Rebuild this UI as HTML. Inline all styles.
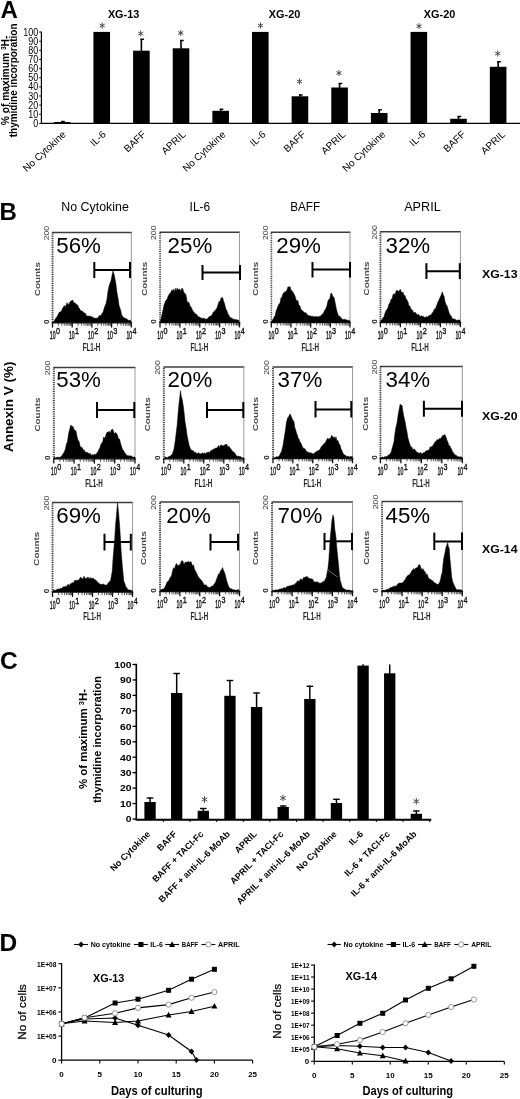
<!DOCTYPE html>
<html lang="en">
<head>
<meta charset="utf-8">
<title>Figure</title>
<style>
html,body{margin:0;padding:0;background:#fff;}
body{width:520px;height:1099px;overflow:hidden;font-family:"Liberation Sans", sans-serif;}
svg{display:block;}
svg text{font-family:"Liberation Sans", sans-serif;}
</style>
</head>
<body>
<svg width="520" height="1099" viewBox="0 0 520 1099">
<defs>
<filter id="g" x="0" y="0" width="100%" height="100%" filterUnits="userSpaceOnUse"><feGaussianBlur stdDeviation="0.3"/></filter>
<filter id="soft" x="-2%" y="-2%" width="104%" height="104%"><feGaussianBlur stdDeviation="0.35"/></filter>
</defs>
<rect x="0" y="0" width="520" height="1099" fill="#fff"/>
<g filter="url(#g)">
<g id="panelA">
<text x="0.40" y="17.50" font-size="24" font-weight="bold">A</text>
<line x1="41.40" y1="31.60" x2="41.40" y2="123.90" stroke="#000" stroke-width="1.2" />
<line x1="40.90" y1="123.40" x2="520.00" y2="123.40" stroke="#000" stroke-width="1.3" />
<line x1="39.20" y1="123.40" x2="41.40" y2="123.40" stroke="#000" stroke-width="1" />
<text x="38.30" y="126.90" font-size="10.2" text-anchor="end" textLength="5.00" lengthAdjust="spacingAndGlyphs">0</text>
<line x1="39.20" y1="114.27" x2="41.40" y2="114.27" stroke="#000" stroke-width="1" />
<text x="38.30" y="117.77" font-size="10.2" text-anchor="end" textLength="10.00" lengthAdjust="spacingAndGlyphs">10</text>
<line x1="39.20" y1="105.14" x2="41.40" y2="105.14" stroke="#000" stroke-width="1" />
<text x="38.30" y="108.64" font-size="10.2" text-anchor="end" textLength="10.00" lengthAdjust="spacingAndGlyphs">20</text>
<line x1="39.20" y1="96.01" x2="41.40" y2="96.01" stroke="#000" stroke-width="1" />
<text x="38.30" y="99.51" font-size="10.2" text-anchor="end" textLength="10.00" lengthAdjust="spacingAndGlyphs">30</text>
<line x1="39.20" y1="86.88" x2="41.40" y2="86.88" stroke="#000" stroke-width="1" />
<text x="38.30" y="90.38" font-size="10.2" text-anchor="end" textLength="10.00" lengthAdjust="spacingAndGlyphs">40</text>
<line x1="39.20" y1="77.75" x2="41.40" y2="77.75" stroke="#000" stroke-width="1" />
<text x="38.30" y="81.25" font-size="10.2" text-anchor="end" textLength="10.00" lengthAdjust="spacingAndGlyphs">50</text>
<line x1="39.20" y1="68.62" x2="41.40" y2="68.62" stroke="#000" stroke-width="1" />
<text x="38.30" y="72.12" font-size="10.2" text-anchor="end" textLength="10.00" lengthAdjust="spacingAndGlyphs">60</text>
<line x1="39.20" y1="59.49" x2="41.40" y2="59.49" stroke="#000" stroke-width="1" />
<text x="38.30" y="62.99" font-size="10.2" text-anchor="end" textLength="10.00" lengthAdjust="spacingAndGlyphs">70</text>
<line x1="39.20" y1="50.36" x2="41.40" y2="50.36" stroke="#000" stroke-width="1" />
<text x="38.30" y="53.86" font-size="10.2" text-anchor="end" textLength="10.00" lengthAdjust="spacingAndGlyphs">80</text>
<line x1="39.20" y1="41.23" x2="41.40" y2="41.23" stroke="#000" stroke-width="1" />
<text x="38.30" y="44.73" font-size="10.2" text-anchor="end" textLength="10.00" lengthAdjust="spacingAndGlyphs">90</text>
<line x1="39.20" y1="32.10" x2="41.40" y2="32.10" stroke="#000" stroke-width="1" />
<text x="38.30" y="35.60" font-size="10.2" text-anchor="end" textLength="15.00" lengthAdjust="spacingAndGlyphs">100</text>
<text x="8.60" y="80.40" font-size="10" font-weight="bold" text-anchor="middle" transform="rotate(-90 8.60 80.40)" textLength="89.70" lengthAdjust="spacingAndGlyphs">% of maximum  <tspan font-size="6.5" dy="-3">3</tspan><tspan dy="3">H-</tspan></text>
<text x="17.30" y="80.40" font-size="10" font-weight="bold" text-anchor="middle" transform="rotate(-90 17.30 80.40)" textLength="113.70" lengthAdjust="spacingAndGlyphs">thymidine incorporation</text>
<text x="107.90" y="18.30" font-size="11" font-weight="bold" textLength="31.30" lengthAdjust="spacingAndGlyphs">XG-13</text>
<text x="268.80" y="18.30" font-size="11" font-weight="bold" textLength="31.50" lengthAdjust="spacingAndGlyphs">XG-20</text>
<text x="423.80" y="18.30" font-size="11" font-weight="bold" textLength="31.50" lengthAdjust="spacingAndGlyphs">XG-20</text>
<rect x="53.80" y="122.00" width="16.60" height="1.40" fill="#000" />
<line x1="62.10" y1="121.00" x2="62.10" y2="122.50" stroke="#000" stroke-width="1.6" />
<line x1="61.10" y1="121.50" x2="64.80" y2="121.50" stroke="#000" stroke-width="1.5" />
<text x="66.60" y="135.20" font-size="10.0" text-anchor="end" transform="rotate(-43 66.60 135.20)">No Cytokine</text>
<rect x="93.44" y="31.90" width="16.60" height="91.50" fill="#000" />
<path d="M102.20 22.50L102.20 28.50M99.60 24.00L104.80 27.00M104.80 24.00L99.60 27.00" stroke="#4a4a4a" stroke-width="1.0" fill="none"/>
<text x="106.53" y="135.20" font-size="10.0" text-anchor="end" transform="rotate(-43 106.53 135.20)">IL-6</text>
<rect x="133.08" y="50.70" width="16.60" height="72.70" fill="#000" />
<line x1="141.38" y1="38.80" x2="141.38" y2="51.20" stroke="#000" stroke-width="1.6" />
<line x1="140.38" y1="39.30" x2="144.08" y2="39.30" stroke="#000" stroke-width="1.5" />
<path d="M140.70 30.50L140.70 36.50M138.10 32.00L143.30 35.00M143.30 32.00L138.10 35.00" stroke="#4a4a4a" stroke-width="1.0" fill="none"/>
<text x="146.46" y="135.20" font-size="10.0" text-anchor="end" transform="rotate(-43 146.46 135.20)">BAFF</text>
<rect x="172.72" y="48.30" width="16.60" height="75.10" fill="#000" />
<line x1="181.02" y1="40.00" x2="181.02" y2="48.80" stroke="#000" stroke-width="1.6" />
<line x1="180.02" y1="40.50" x2="183.72" y2="40.50" stroke="#000" stroke-width="1.5" />
<path d="M180.70 30.00L180.70 36.00M178.10 31.50L183.30 34.50M183.30 31.50L178.10 34.50" stroke="#4a4a4a" stroke-width="1.0" fill="none"/>
<text x="186.39" y="135.20" font-size="10.0" text-anchor="end" transform="rotate(-43 186.39 135.20)">APRIL</text>
<rect x="212.36" y="110.80" width="16.60" height="12.60" fill="#000" />
<line x1="220.66" y1="108.80" x2="220.66" y2="111.30" stroke="#000" stroke-width="1.6" />
<line x1="219.66" y1="109.30" x2="223.36" y2="109.30" stroke="#000" stroke-width="1.5" />
<text x="226.32" y="135.20" font-size="10.0" text-anchor="end" transform="rotate(-43 226.32 135.20)">No Cytokine</text>
<rect x="252.00" y="31.90" width="16.60" height="91.50" fill="#000" />
<path d="M260.50 22.50L260.50 28.50M257.90 24.00L263.10 27.00M263.10 24.00L257.90 27.00" stroke="#4a4a4a" stroke-width="1.0" fill="none"/>
<text x="266.25" y="135.20" font-size="10.0" text-anchor="end" transform="rotate(-43 266.25 135.20)">IL-6</text>
<rect x="291.64" y="96.30" width="16.60" height="27.10" fill="#000" />
<line x1="299.94" y1="94.50" x2="299.94" y2="96.80" stroke="#000" stroke-width="1.6" />
<line x1="298.94" y1="95.00" x2="302.64" y2="95.00" stroke="#000" stroke-width="1.5" />
<path d="M299.50 78.50L299.50 84.50M296.90 80.00L302.10 83.00M302.10 80.00L296.90 83.00" stroke="#4a4a4a" stroke-width="1.0" fill="none"/>
<text x="306.18" y="135.20" font-size="10.0" text-anchor="end" transform="rotate(-43 306.18 135.20)">BAFF</text>
<rect x="331.28" y="87.50" width="16.60" height="35.90" fill="#000" />
<line x1="339.58" y1="83.00" x2="339.58" y2="88.00" stroke="#000" stroke-width="1.6" />
<line x1="338.58" y1="83.50" x2="342.28" y2="83.50" stroke="#000" stroke-width="1.5" />
<path d="M339.00 70.00L339.00 76.00M336.40 71.50L341.60 74.50M341.60 71.50L336.40 74.50" stroke="#4a4a4a" stroke-width="1.0" fill="none"/>
<text x="346.11" y="135.20" font-size="10.0" text-anchor="end" transform="rotate(-43 346.11 135.20)">APRIL</text>
<rect x="370.92" y="113.00" width="16.60" height="10.40" fill="#000" />
<line x1="379.22" y1="109.30" x2="379.22" y2="113.50" stroke="#000" stroke-width="1.6" />
<line x1="378.22" y1="109.80" x2="381.92" y2="109.80" stroke="#000" stroke-width="1.5" />
<text x="386.04" y="135.20" font-size="10.0" text-anchor="end" transform="rotate(-43 386.04 135.20)">No Cytokine</text>
<rect x="410.56" y="31.90" width="16.60" height="91.50" fill="#000" />
<path d="M419.00 23.20L419.00 29.20M416.40 24.70L421.60 27.70M421.60 24.70L416.40 27.70" stroke="#4a4a4a" stroke-width="1.0" fill="none"/>
<text x="425.97" y="135.20" font-size="10.0" text-anchor="end" transform="rotate(-43 425.97 135.20)">IL-6</text>
<rect x="450.20" y="118.80" width="16.60" height="4.60" fill="#000" />
<line x1="458.50" y1="116.00" x2="458.50" y2="119.30" stroke="#000" stroke-width="1.6" />
<line x1="457.50" y1="116.50" x2="461.20" y2="116.50" stroke="#000" stroke-width="1.5" />
<text x="465.90" y="135.20" font-size="10.0" text-anchor="end" transform="rotate(-43 465.90 135.20)">BAFF</text>
<rect x="489.84" y="66.80" width="16.60" height="56.60" fill="#000" />
<line x1="498.14" y1="61.30" x2="498.14" y2="67.30" stroke="#000" stroke-width="1.6" />
<line x1="497.14" y1="61.80" x2="500.84" y2="61.80" stroke="#000" stroke-width="1.5" />
<path d="M497.70 50.50L497.70 56.50M495.10 52.00L500.30 55.00M500.30 52.00L495.10 55.00" stroke="#4a4a4a" stroke-width="1.0" fill="none"/>
<text x="505.83" y="135.20" font-size="10.0" text-anchor="end" transform="rotate(-43 505.83 135.20)">APRIL</text>
</g>
<g id="panelB">
<text x="-0.50" y="219.80" font-size="24" font-weight="bold">B</text>
<text x="13.20" y="406.80" font-size="12.8" font-weight="bold" text-anchor="middle" transform="rotate(-90 13.20 406.80)" textLength="90.50" lengthAdjust="spacingAndGlyphs">Annexin V (%)</text>
<text x="61.30" y="210.60" font-size="12.2" textLength="67.50" lengthAdjust="spacingAndGlyphs">No Cytokine</text>
<text x="189.60" y="210.60" font-size="12.2" textLength="20.60" lengthAdjust="spacingAndGlyphs">IL-6</text>
<text x="290.20" y="210.60" font-size="12.2" textLength="30.00" lengthAdjust="spacingAndGlyphs">BAFF</text>
<text x="404.20" y="210.60" font-size="12.2" textLength="36.50" lengthAdjust="spacingAndGlyphs">APRIL</text>
<text x="482.00" y="277.50" font-size="11.2" font-weight="bold" textLength="35.50" lengthAdjust="spacingAndGlyphs">XG-13</text>
<text x="482.00" y="420.00" font-size="11.2" font-weight="bold" textLength="35.50" lengthAdjust="spacingAndGlyphs">XG-20</text>
<text x="482.00" y="553.20" font-size="11.2" font-weight="bold" textLength="35.50" lengthAdjust="spacingAndGlyphs">XG-14</text>
<g filter="url(#soft)">
<line x1="52.00" y1="232.60" x2="131.80" y2="232.60" stroke="#3c3c3c" stroke-width="1.5" />
<line x1="131.30" y1="232.60" x2="131.30" y2="322.60" stroke="#9a9a9a" stroke-width="1.0" />
<line x1="52.70" y1="233.60" x2="52.70" y2="322.60" stroke="#888" stroke-width="0.5" />
<line x1="52.50" y1="233.60" x2="52.50" y2="322.60" stroke="#3a3a3a" stroke-width="2.0" stroke-dasharray="0.9 1.35"/>
<line x1="51.70" y1="322.90" x2="132.10" y2="322.90" stroke="#111" stroke-width="1.3" />
<line x1="52.50" y1="322.60" x2="52.50" y2="327.60" stroke="#111" stroke-width="1.3" />
<line x1="58.43" y1="322.60" x2="58.43" y2="325.80" stroke="#333" stroke-width="0.8" />
<line x1="61.90" y1="322.60" x2="61.90" y2="325.80" stroke="#333" stroke-width="0.8" />
<line x1="64.36" y1="322.60" x2="64.36" y2="325.80" stroke="#333" stroke-width="0.8" />
<line x1="66.27" y1="322.60" x2="66.27" y2="325.80" stroke="#333" stroke-width="0.8" />
<line x1="67.83" y1="322.60" x2="67.83" y2="325.80" stroke="#333" stroke-width="0.8" />
<line x1="69.15" y1="322.60" x2="69.15" y2="325.80" stroke="#333" stroke-width="0.8" />
<line x1="70.29" y1="322.60" x2="70.29" y2="325.80" stroke="#333" stroke-width="0.8" />
<line x1="71.30" y1="322.60" x2="71.30" y2="325.80" stroke="#333" stroke-width="0.8" />
<line x1="72.20" y1="322.60" x2="72.20" y2="327.60" stroke="#111" stroke-width="1.3" />
<line x1="78.13" y1="322.60" x2="78.13" y2="325.80" stroke="#333" stroke-width="0.8" />
<line x1="81.60" y1="322.60" x2="81.60" y2="325.80" stroke="#333" stroke-width="0.8" />
<line x1="84.06" y1="322.60" x2="84.06" y2="325.80" stroke="#333" stroke-width="0.8" />
<line x1="85.97" y1="322.60" x2="85.97" y2="325.80" stroke="#333" stroke-width="0.8" />
<line x1="87.53" y1="322.60" x2="87.53" y2="325.80" stroke="#333" stroke-width="0.8" />
<line x1="88.85" y1="322.60" x2="88.85" y2="325.80" stroke="#333" stroke-width="0.8" />
<line x1="89.99" y1="322.60" x2="89.99" y2="325.80" stroke="#333" stroke-width="0.8" />
<line x1="91.00" y1="322.60" x2="91.00" y2="325.80" stroke="#333" stroke-width="0.8" />
<line x1="91.90" y1="322.60" x2="91.90" y2="327.60" stroke="#111" stroke-width="1.3" />
<line x1="97.83" y1="322.60" x2="97.83" y2="325.80" stroke="#333" stroke-width="0.8" />
<line x1="101.30" y1="322.60" x2="101.30" y2="325.80" stroke="#333" stroke-width="0.8" />
<line x1="103.76" y1="322.60" x2="103.76" y2="325.80" stroke="#333" stroke-width="0.8" />
<line x1="105.67" y1="322.60" x2="105.67" y2="325.80" stroke="#333" stroke-width="0.8" />
<line x1="107.23" y1="322.60" x2="107.23" y2="325.80" stroke="#333" stroke-width="0.8" />
<line x1="108.55" y1="322.60" x2="108.55" y2="325.80" stroke="#333" stroke-width="0.8" />
<line x1="109.69" y1="322.60" x2="109.69" y2="325.80" stroke="#333" stroke-width="0.8" />
<line x1="110.70" y1="322.60" x2="110.70" y2="325.80" stroke="#333" stroke-width="0.8" />
<line x1="111.60" y1="322.60" x2="111.60" y2="327.60" stroke="#111" stroke-width="1.3" />
<line x1="117.53" y1="322.60" x2="117.53" y2="325.80" stroke="#333" stroke-width="0.8" />
<line x1="121.00" y1="322.60" x2="121.00" y2="325.80" stroke="#333" stroke-width="0.8" />
<line x1="123.46" y1="322.60" x2="123.46" y2="325.80" stroke="#333" stroke-width="0.8" />
<line x1="125.37" y1="322.60" x2="125.37" y2="325.80" stroke="#333" stroke-width="0.8" />
<line x1="126.93" y1="322.60" x2="126.93" y2="325.80" stroke="#333" stroke-width="0.8" />
<line x1="128.25" y1="322.60" x2="128.25" y2="325.80" stroke="#333" stroke-width="0.8" />
<line x1="129.39" y1="322.60" x2="129.39" y2="325.80" stroke="#333" stroke-width="0.8" />
<line x1="130.40" y1="322.60" x2="130.40" y2="325.80" stroke="#333" stroke-width="0.8" />
<line x1="131.30" y1="322.60" x2="131.30" y2="327.60" stroke="#111" stroke-width="1.3" />
<path d="M53.0 322.6L53.0 321.9L54.0 320.9L55.0 319.6L56.0 317.9L57.0 316.5L58.0 315.0L59.0 312.6L60.0 312.0L60.9 311.5L61.7 310.9L62.6 307.9L63.4 307.2L64.3 305.5L65.1 306.7L66.0 305.6L67.0 302.6L68.0 304.7L69.0 303.7L70.0 301.8L71.0 301.4L72.0 300.1L73.0 300.4L74.0 303.2L75.0 302.7L76.0 304.0L76.9 304.8L77.7 305.1L78.6 307.4L79.4 308.3L80.3 310.4L81.1 310.4L82.0 311.3L82.9 311.6L83.7 312.7L84.6 312.9L85.4 313.3L86.3 315.5L87.1 316.0L88.0 316.1L88.9 316.2L89.8 315.9L90.6 316.2L91.5 316.7L92.4 316.7L93.2 318.1L94.1 317.7L95.0 318.6L96.0 317.8L97.0 318.4L98.0 317.9L99.0 315.8L100.0 315.5L101.0 315.7L102.0 313.2L103.0 312.4L104.0 308.8L105.0 305.8L106.0 303.7L107.0 298.9L108.0 291.3L109.0 286.3L110.0 283.2L111.0 280.7L112.0 275.5L113.0 271.0L114.0 274.0L115.0 279.1L116.0 284.2L117.0 293.0L118.0 298.1L119.0 305.2L119.9 307.9L120.8 310.7L121.6 315.0L122.5 315.8L123.4 317.8L124.2 317.6L125.1 318.5L126.0 318.6L127.0 319.0L128.0 320.3L129.0 320.4L130.0 320.1L131.0 321.0L131.0 322.6Z" fill="#050505" stroke="#050505" stroke-width="0.5" stroke-linejoin="round"/>
<text x="56.30" y="252.70" font-size="22.3">56%</text>
<line x1="94.30" y1="270.00" x2="130.00" y2="270.00" stroke="#000" stroke-width="2.0" />
<line x1="94.30" y1="262.00" x2="94.30" y2="278.00" stroke="#000" stroke-width="2.0" />
<line x1="130.00" y1="262.00" x2="130.00" y2="278.00" stroke="#000" stroke-width="2.0" />
<text x="40.30" y="279.10" font-size="7.6" font-weight="bold" text-anchor="middle" transform="rotate(-90 40.30 279.10)" textLength="34.00" lengthAdjust="spacingAndGlyphs" fill="#4a4a4a">Counts</text>
<text x="48.90" y="233.10" font-size="7.4" text-anchor="middle" transform="rotate(-90 48.90 233.10)" textLength="14.50" lengthAdjust="spacingAndGlyphs" fill="#3a3a3a">200</text>
<text x="48.90" y="321.80" font-size="8" font-weight="bold" text-anchor="middle" transform="rotate(-90 48.90 321.80)" fill="#222">0</text>
<text x="49.80" y="339.40" font-size="11.2" textLength="5.70" lengthAdjust="spacingAndGlyphs" fill="#111" stroke="#111" stroke-width="0.45">10</text>
<text x="55.90" y="334.40" font-size="9.8" textLength="4.00" lengthAdjust="spacingAndGlyphs" fill="#111" stroke="#111" stroke-width="0.4">0</text>
<text x="68.95" y="339.40" font-size="11.2" textLength="5.70" lengthAdjust="spacingAndGlyphs" fill="#111" stroke="#111" stroke-width="0.45">10</text>
<text x="75.05" y="334.40" font-size="9.8" textLength="4.00" lengthAdjust="spacingAndGlyphs" fill="#111" stroke="#111" stroke-width="0.4">1</text>
<text x="88.10" y="339.40" font-size="11.2" textLength="5.70" lengthAdjust="spacingAndGlyphs" fill="#111" stroke="#111" stroke-width="0.45">10</text>
<text x="94.20" y="334.40" font-size="9.8" textLength="4.00" lengthAdjust="spacingAndGlyphs" fill="#111" stroke="#111" stroke-width="0.4">2</text>
<text x="107.25" y="339.40" font-size="11.2" textLength="5.70" lengthAdjust="spacingAndGlyphs" fill="#111" stroke="#111" stroke-width="0.45">10</text>
<text x="113.35" y="334.40" font-size="9.8" textLength="4.00" lengthAdjust="spacingAndGlyphs" fill="#111" stroke="#111" stroke-width="0.4">3</text>
<text x="126.40" y="339.40" font-size="11.2" textLength="5.70" lengthAdjust="spacingAndGlyphs" fill="#111" stroke="#111" stroke-width="0.45">10</text>
<text x="132.50" y="334.40" font-size="9.8" textLength="4.00" lengthAdjust="spacingAndGlyphs" fill="#111" stroke="#111" stroke-width="0.4">4</text>
<text x="91.50" y="350.90" font-size="10" font-weight="bold" text-anchor="middle" textLength="17.60" lengthAdjust="spacingAndGlyphs" fill="#222">FL1-H</text>
<line x1="159.50" y1="232.20" x2="240.00" y2="232.20" stroke="#3c3c3c" stroke-width="1.5" />
<line x1="239.50" y1="232.20" x2="239.50" y2="322.40" stroke="#9a9a9a" stroke-width="1.0" />
<line x1="160.20" y1="233.20" x2="160.20" y2="322.40" stroke="#888" stroke-width="0.5" />
<line x1="160.00" y1="233.20" x2="160.00" y2="322.40" stroke="#3a3a3a" stroke-width="2.0" stroke-dasharray="0.9 1.35"/>
<line x1="159.20" y1="322.70" x2="240.30" y2="322.70" stroke="#111" stroke-width="1.3" />
<line x1="160.00" y1="322.40" x2="160.00" y2="327.40" stroke="#111" stroke-width="1.3" />
<line x1="165.98" y1="322.40" x2="165.98" y2="325.60" stroke="#333" stroke-width="0.8" />
<line x1="169.48" y1="322.40" x2="169.48" y2="325.60" stroke="#333" stroke-width="0.8" />
<line x1="171.97" y1="322.40" x2="171.97" y2="325.60" stroke="#333" stroke-width="0.8" />
<line x1="173.89" y1="322.40" x2="173.89" y2="325.60" stroke="#333" stroke-width="0.8" />
<line x1="175.47" y1="322.40" x2="175.47" y2="325.60" stroke="#333" stroke-width="0.8" />
<line x1="176.80" y1="322.40" x2="176.80" y2="325.60" stroke="#333" stroke-width="0.8" />
<line x1="177.95" y1="322.40" x2="177.95" y2="325.60" stroke="#333" stroke-width="0.8" />
<line x1="178.97" y1="322.40" x2="178.97" y2="325.60" stroke="#333" stroke-width="0.8" />
<line x1="179.88" y1="322.40" x2="179.88" y2="327.40" stroke="#111" stroke-width="1.3" />
<line x1="185.86" y1="322.40" x2="185.86" y2="325.60" stroke="#333" stroke-width="0.8" />
<line x1="189.36" y1="322.40" x2="189.36" y2="325.60" stroke="#333" stroke-width="0.8" />
<line x1="191.84" y1="322.40" x2="191.84" y2="325.60" stroke="#333" stroke-width="0.8" />
<line x1="193.77" y1="322.40" x2="193.77" y2="325.60" stroke="#333" stroke-width="0.8" />
<line x1="195.34" y1="322.40" x2="195.34" y2="325.60" stroke="#333" stroke-width="0.8" />
<line x1="196.67" y1="322.40" x2="196.67" y2="325.60" stroke="#333" stroke-width="0.8" />
<line x1="197.82" y1="322.40" x2="197.82" y2="325.60" stroke="#333" stroke-width="0.8" />
<line x1="198.84" y1="322.40" x2="198.84" y2="325.60" stroke="#333" stroke-width="0.8" />
<line x1="199.75" y1="322.40" x2="199.75" y2="327.40" stroke="#111" stroke-width="1.3" />
<line x1="205.73" y1="322.40" x2="205.73" y2="325.60" stroke="#333" stroke-width="0.8" />
<line x1="209.23" y1="322.40" x2="209.23" y2="325.60" stroke="#333" stroke-width="0.8" />
<line x1="211.72" y1="322.40" x2="211.72" y2="325.60" stroke="#333" stroke-width="0.8" />
<line x1="213.64" y1="322.40" x2="213.64" y2="325.60" stroke="#333" stroke-width="0.8" />
<line x1="215.22" y1="322.40" x2="215.22" y2="325.60" stroke="#333" stroke-width="0.8" />
<line x1="216.55" y1="322.40" x2="216.55" y2="325.60" stroke="#333" stroke-width="0.8" />
<line x1="217.70" y1="322.40" x2="217.70" y2="325.60" stroke="#333" stroke-width="0.8" />
<line x1="218.72" y1="322.40" x2="218.72" y2="325.60" stroke="#333" stroke-width="0.8" />
<line x1="219.62" y1="322.40" x2="219.62" y2="327.40" stroke="#111" stroke-width="1.3" />
<line x1="225.61" y1="322.40" x2="225.61" y2="325.60" stroke="#333" stroke-width="0.8" />
<line x1="229.11" y1="322.40" x2="229.11" y2="325.60" stroke="#333" stroke-width="0.8" />
<line x1="231.59" y1="322.40" x2="231.59" y2="325.60" stroke="#333" stroke-width="0.8" />
<line x1="233.52" y1="322.40" x2="233.52" y2="325.60" stroke="#333" stroke-width="0.8" />
<line x1="235.09" y1="322.40" x2="235.09" y2="325.60" stroke="#333" stroke-width="0.8" />
<line x1="236.42" y1="322.40" x2="236.42" y2="325.60" stroke="#333" stroke-width="0.8" />
<line x1="237.57" y1="322.40" x2="237.57" y2="325.60" stroke="#333" stroke-width="0.8" />
<line x1="238.59" y1="322.40" x2="238.59" y2="325.60" stroke="#333" stroke-width="0.8" />
<line x1="239.50" y1="322.40" x2="239.50" y2="327.40" stroke="#111" stroke-width="1.3" />
<path d="M160.3 322.4L160.3 321.0L161.2 318.2L162.0 314.3L163.0 309.9L164.0 305.0L165.0 302.6L166.0 300.0L167.0 299.4L168.0 296.4L169.0 294.4L169.9 293.3L170.8 292.8L171.6 290.1L172.5 290.8L173.4 289.3L174.3 292.0L175.2 288.3L176.2 291.1L177.1 287.9L178.0 290.3L179.0 288.9L179.9 289.3L180.9 291.2L181.9 288.2L182.8 288.7L183.8 292.7L184.9 293.2L185.9 294.6L187.0 300.9L188.0 302.6L189.0 302.3L190.0 305.9L191.0 307.0L192.0 309.0L193.0 311.4L194.0 311.9L195.0 314.2L196.0 313.7L197.0 314.8L198.0 316.8L199.0 316.8L200.0 317.4L201.0 318.0L202.0 318.2L203.0 318.4L204.0 318.1L205.0 319.1L206.0 319.3L207.0 318.9L208.0 317.9L209.0 316.8L210.0 316.3L211.0 316.1L212.0 315.0L213.0 312.5L214.0 311.5L215.0 310.7L216.0 309.3L217.0 307.9L218.0 304.7L219.0 301.4L219.9 302.0L220.9 298.3L221.8 297.6L222.7 297.8L223.6 301.3L224.5 303.6L225.8 308.8L227.0 311.1L228.0 314.0L229.0 315.5L230.0 317.8L231.0 317.4L232.0 318.4L233.0 318.9L234.0 319.7L235.0 319.1L236.0 319.9L237.0 319.8L238.0 320.1L239.0 320.5L239.0 322.4Z" fill="#050505" stroke="#050505" stroke-width="0.5" stroke-linejoin="round"/>
<text x="167.60" y="252.70" font-size="22.3">25%</text>
<line x1="202.50" y1="272.50" x2="240.00" y2="272.50" stroke="#000" stroke-width="2.0" />
<line x1="202.50" y1="265.00" x2="202.50" y2="280.00" stroke="#000" stroke-width="2.0" />
<line x1="240.00" y1="265.00" x2="240.00" y2="280.00" stroke="#000" stroke-width="2.0" />
<text x="147.30" y="278.80" font-size="7.6" font-weight="bold" text-anchor="middle" transform="rotate(-90 147.30 278.80)" textLength="34.00" lengthAdjust="spacingAndGlyphs" fill="#4a4a4a">Counts</text>
<text x="156.40" y="232.70" font-size="7.4" text-anchor="middle" transform="rotate(-90 156.40 232.70)" textLength="14.50" lengthAdjust="spacingAndGlyphs" fill="#3a3a3a">200</text>
<text x="156.40" y="321.60" font-size="8" font-weight="bold" text-anchor="middle" transform="rotate(-90 156.40 321.60)" fill="#222">0</text>
<text x="157.30" y="339.20" font-size="11.2" textLength="5.70" lengthAdjust="spacingAndGlyphs" fill="#111" stroke="#111" stroke-width="0.45">10</text>
<text x="163.40" y="334.20" font-size="9.8" textLength="4.00" lengthAdjust="spacingAndGlyphs" fill="#111" stroke="#111" stroke-width="0.4">0</text>
<text x="176.62" y="339.20" font-size="11.2" textLength="5.70" lengthAdjust="spacingAndGlyphs" fill="#111" stroke="#111" stroke-width="0.45">10</text>
<text x="182.72" y="334.20" font-size="9.8" textLength="4.00" lengthAdjust="spacingAndGlyphs" fill="#111" stroke="#111" stroke-width="0.4">1</text>
<text x="195.95" y="339.20" font-size="11.2" textLength="5.70" lengthAdjust="spacingAndGlyphs" fill="#111" stroke="#111" stroke-width="0.45">10</text>
<text x="202.05" y="334.20" font-size="9.8" textLength="4.00" lengthAdjust="spacingAndGlyphs" fill="#111" stroke="#111" stroke-width="0.4">2</text>
<text x="215.28" y="339.20" font-size="11.2" textLength="5.70" lengthAdjust="spacingAndGlyphs" fill="#111" stroke="#111" stroke-width="0.45">10</text>
<text x="221.38" y="334.20" font-size="9.8" textLength="4.00" lengthAdjust="spacingAndGlyphs" fill="#111" stroke="#111" stroke-width="0.4">3</text>
<text x="234.60" y="339.20" font-size="11.2" textLength="5.70" lengthAdjust="spacingAndGlyphs" fill="#111" stroke="#111" stroke-width="0.45">10</text>
<text x="240.70" y="334.20" font-size="9.8" textLength="4.00" lengthAdjust="spacingAndGlyphs" fill="#111" stroke="#111" stroke-width="0.4">4</text>
<text x="199.35" y="350.70" font-size="10" font-weight="bold" text-anchor="middle" textLength="17.60" lengthAdjust="spacingAndGlyphs" fill="#222">FL1-H</text>
<line x1="270.80" y1="232.20" x2="350.50" y2="232.20" stroke="#3c3c3c" stroke-width="1.5" />
<line x1="350.00" y1="232.20" x2="350.00" y2="322.40" stroke="#9a9a9a" stroke-width="1.0" />
<line x1="271.50" y1="233.20" x2="271.50" y2="322.40" stroke="#888" stroke-width="0.5" />
<line x1="271.30" y1="233.20" x2="271.30" y2="322.40" stroke="#3a3a3a" stroke-width="2.0" stroke-dasharray="0.9 1.35"/>
<line x1="270.50" y1="322.70" x2="350.80" y2="322.70" stroke="#111" stroke-width="1.3" />
<line x1="271.30" y1="322.40" x2="271.30" y2="327.40" stroke="#111" stroke-width="1.3" />
<line x1="277.22" y1="322.40" x2="277.22" y2="325.60" stroke="#333" stroke-width="0.8" />
<line x1="280.69" y1="322.40" x2="280.69" y2="325.60" stroke="#333" stroke-width="0.8" />
<line x1="283.15" y1="322.40" x2="283.15" y2="325.60" stroke="#333" stroke-width="0.8" />
<line x1="285.05" y1="322.40" x2="285.05" y2="325.60" stroke="#333" stroke-width="0.8" />
<line x1="286.61" y1="322.40" x2="286.61" y2="325.60" stroke="#333" stroke-width="0.8" />
<line x1="287.93" y1="322.40" x2="287.93" y2="325.60" stroke="#333" stroke-width="0.8" />
<line x1="289.07" y1="322.40" x2="289.07" y2="325.60" stroke="#333" stroke-width="0.8" />
<line x1="290.07" y1="322.40" x2="290.07" y2="325.60" stroke="#333" stroke-width="0.8" />
<line x1="290.98" y1="322.40" x2="290.98" y2="327.40" stroke="#111" stroke-width="1.3" />
<line x1="296.90" y1="322.40" x2="296.90" y2="325.60" stroke="#333" stroke-width="0.8" />
<line x1="300.36" y1="322.40" x2="300.36" y2="325.60" stroke="#333" stroke-width="0.8" />
<line x1="302.82" y1="322.40" x2="302.82" y2="325.60" stroke="#333" stroke-width="0.8" />
<line x1="304.73" y1="322.40" x2="304.73" y2="325.60" stroke="#333" stroke-width="0.8" />
<line x1="306.29" y1="322.40" x2="306.29" y2="325.60" stroke="#333" stroke-width="0.8" />
<line x1="307.60" y1="322.40" x2="307.60" y2="325.60" stroke="#333" stroke-width="0.8" />
<line x1="308.74" y1="322.40" x2="308.74" y2="325.60" stroke="#333" stroke-width="0.8" />
<line x1="309.75" y1="322.40" x2="309.75" y2="325.60" stroke="#333" stroke-width="0.8" />
<line x1="310.65" y1="322.40" x2="310.65" y2="327.40" stroke="#111" stroke-width="1.3" />
<line x1="316.57" y1="322.40" x2="316.57" y2="325.60" stroke="#333" stroke-width="0.8" />
<line x1="320.04" y1="322.40" x2="320.04" y2="325.60" stroke="#333" stroke-width="0.8" />
<line x1="322.50" y1="322.40" x2="322.50" y2="325.60" stroke="#333" stroke-width="0.8" />
<line x1="324.40" y1="322.40" x2="324.40" y2="325.60" stroke="#333" stroke-width="0.8" />
<line x1="325.96" y1="322.40" x2="325.96" y2="325.60" stroke="#333" stroke-width="0.8" />
<line x1="327.28" y1="322.40" x2="327.28" y2="325.60" stroke="#333" stroke-width="0.8" />
<line x1="328.42" y1="322.40" x2="328.42" y2="325.60" stroke="#333" stroke-width="0.8" />
<line x1="329.42" y1="322.40" x2="329.42" y2="325.60" stroke="#333" stroke-width="0.8" />
<line x1="330.32" y1="322.40" x2="330.32" y2="327.40" stroke="#111" stroke-width="1.3" />
<line x1="336.25" y1="322.40" x2="336.25" y2="325.60" stroke="#333" stroke-width="0.8" />
<line x1="339.71" y1="322.40" x2="339.71" y2="325.60" stroke="#333" stroke-width="0.8" />
<line x1="342.17" y1="322.40" x2="342.17" y2="325.60" stroke="#333" stroke-width="0.8" />
<line x1="344.08" y1="322.40" x2="344.08" y2="325.60" stroke="#333" stroke-width="0.8" />
<line x1="345.64" y1="322.40" x2="345.64" y2="325.60" stroke="#333" stroke-width="0.8" />
<line x1="346.95" y1="322.40" x2="346.95" y2="325.60" stroke="#333" stroke-width="0.8" />
<line x1="348.09" y1="322.40" x2="348.09" y2="325.60" stroke="#333" stroke-width="0.8" />
<line x1="349.10" y1="322.40" x2="349.10" y2="325.60" stroke="#333" stroke-width="0.8" />
<line x1="350.00" y1="322.40" x2="350.00" y2="327.40" stroke="#111" stroke-width="1.3" />
<path d="M271.8 322.4L271.8 320.7L272.9 319.7L274.0 317.3L275.0 315.8L276.0 311.6L277.0 308.7L278.0 306.0L279.0 304.1L280.0 303.1L281.0 298.0L282.0 296.9L283.0 293.8L284.0 292.6L285.0 291.5L286.0 291.8L287.0 289.9L288.0 286.7L289.0 287.2L290.0 286.6L291.0 290.0L292.0 290.9L293.0 292.2L294.0 294.0L295.0 296.1L296.0 299.6L297.0 301.1L297.9 300.6L298.8 304.7L299.8 305.7L300.7 308.6L301.6 309.9L302.5 310.8L303.4 311.5L304.3 312.4L305.2 312.7L306.2 312.9L307.1 314.8L308.0 315.1L309.0 315.9L310.0 315.8L311.0 316.0L312.0 316.7L313.0 315.9L313.9 317.0L314.8 316.8L315.7 316.4L316.6 316.5L317.5 317.0L318.4 316.4L319.3 316.4L320.2 316.2L321.1 315.4L322.0 314.3L323.0 313.9L324.0 311.8L325.0 309.9L326.0 308.2L327.0 305.6L328.0 300.5L329.0 299.6L329.9 298.3L330.9 293.3L331.8 293.4L332.9 296.8L334.0 297.2L335.2 302.8L336.5 309.8L337.6 313.6L338.8 316.3L339.9 316.3L340.9 317.6L341.9 319.0L343.0 319.6L343.9 319.6L344.8 319.0L345.6 320.1L346.5 319.7L347.4 320.4L348.2 319.8L349.1 321.0L350.0 320.6L350.0 322.4Z" fill="#050505" stroke="#050505" stroke-width="0.5" stroke-linejoin="round"/>
<text x="276.30" y="252.70" font-size="22.3">29%</text>
<line x1="312.50" y1="269.50" x2="350.00" y2="269.50" stroke="#000" stroke-width="2.0" />
<line x1="312.50" y1="262.00" x2="312.50" y2="277.50" stroke="#000" stroke-width="2.0" />
<line x1="350.00" y1="262.00" x2="350.00" y2="277.50" stroke="#000" stroke-width="2.0" />
<text x="258.50" y="278.80" font-size="7.6" font-weight="bold" text-anchor="middle" transform="rotate(-90 258.50 278.80)" textLength="34.00" lengthAdjust="spacingAndGlyphs" fill="#4a4a4a">Counts</text>
<text x="267.70" y="232.70" font-size="7.4" text-anchor="middle" transform="rotate(-90 267.70 232.70)" textLength="14.50" lengthAdjust="spacingAndGlyphs" fill="#3a3a3a">200</text>
<text x="267.70" y="321.60" font-size="8" font-weight="bold" text-anchor="middle" transform="rotate(-90 267.70 321.60)" fill="#222">0</text>
<text x="268.60" y="339.20" font-size="11.2" textLength="5.70" lengthAdjust="spacingAndGlyphs" fill="#111" stroke="#111" stroke-width="0.45">10</text>
<text x="274.70" y="334.20" font-size="9.8" textLength="4.00" lengthAdjust="spacingAndGlyphs" fill="#111" stroke="#111" stroke-width="0.4">0</text>
<text x="287.73" y="339.20" font-size="11.2" textLength="5.70" lengthAdjust="spacingAndGlyphs" fill="#111" stroke="#111" stroke-width="0.45">10</text>
<text x="293.82" y="334.20" font-size="9.8" textLength="4.00" lengthAdjust="spacingAndGlyphs" fill="#111" stroke="#111" stroke-width="0.4">1</text>
<text x="306.85" y="339.20" font-size="11.2" textLength="5.70" lengthAdjust="spacingAndGlyphs" fill="#111" stroke="#111" stroke-width="0.45">10</text>
<text x="312.95" y="334.20" font-size="9.8" textLength="4.00" lengthAdjust="spacingAndGlyphs" fill="#111" stroke="#111" stroke-width="0.4">2</text>
<text x="325.98" y="339.20" font-size="11.2" textLength="5.70" lengthAdjust="spacingAndGlyphs" fill="#111" stroke="#111" stroke-width="0.45">10</text>
<text x="332.07" y="334.20" font-size="9.8" textLength="4.00" lengthAdjust="spacingAndGlyphs" fill="#111" stroke="#111" stroke-width="0.4">3</text>
<text x="345.10" y="339.20" font-size="11.2" textLength="5.70" lengthAdjust="spacingAndGlyphs" fill="#111" stroke="#111" stroke-width="0.45">10</text>
<text x="351.20" y="334.20" font-size="9.8" textLength="4.00" lengthAdjust="spacingAndGlyphs" fill="#111" stroke="#111" stroke-width="0.4">4</text>
<text x="310.25" y="350.70" font-size="10" font-weight="bold" text-anchor="middle" textLength="17.60" lengthAdjust="spacingAndGlyphs" fill="#222">FL1-H</text>
<line x1="379.90" y1="231.80" x2="460.90" y2="231.80" stroke="#3c3c3c" stroke-width="1.5" />
<line x1="460.40" y1="231.80" x2="460.40" y2="322.20" stroke="#9a9a9a" stroke-width="1.0" />
<line x1="380.60" y1="232.80" x2="380.60" y2="322.20" stroke="#888" stroke-width="0.5" />
<line x1="380.40" y1="232.80" x2="380.40" y2="322.20" stroke="#3a3a3a" stroke-width="2.0" stroke-dasharray="0.9 1.35"/>
<line x1="379.60" y1="322.50" x2="461.20" y2="322.50" stroke="#111" stroke-width="1.3" />
<line x1="380.40" y1="322.20" x2="380.40" y2="327.20" stroke="#111" stroke-width="1.3" />
<line x1="386.42" y1="322.20" x2="386.42" y2="325.40" stroke="#333" stroke-width="0.8" />
<line x1="389.94" y1="322.20" x2="389.94" y2="325.40" stroke="#333" stroke-width="0.8" />
<line x1="392.44" y1="322.20" x2="392.44" y2="325.40" stroke="#333" stroke-width="0.8" />
<line x1="394.38" y1="322.20" x2="394.38" y2="325.40" stroke="#333" stroke-width="0.8" />
<line x1="395.96" y1="322.20" x2="395.96" y2="325.40" stroke="#333" stroke-width="0.8" />
<line x1="397.30" y1="322.20" x2="397.30" y2="325.40" stroke="#333" stroke-width="0.8" />
<line x1="398.46" y1="322.20" x2="398.46" y2="325.40" stroke="#333" stroke-width="0.8" />
<line x1="399.48" y1="322.20" x2="399.48" y2="325.40" stroke="#333" stroke-width="0.8" />
<line x1="400.40" y1="322.20" x2="400.40" y2="327.20" stroke="#111" stroke-width="1.3" />
<line x1="406.42" y1="322.20" x2="406.42" y2="325.40" stroke="#333" stroke-width="0.8" />
<line x1="409.94" y1="322.20" x2="409.94" y2="325.40" stroke="#333" stroke-width="0.8" />
<line x1="412.44" y1="322.20" x2="412.44" y2="325.40" stroke="#333" stroke-width="0.8" />
<line x1="414.38" y1="322.20" x2="414.38" y2="325.40" stroke="#333" stroke-width="0.8" />
<line x1="415.96" y1="322.20" x2="415.96" y2="325.40" stroke="#333" stroke-width="0.8" />
<line x1="417.30" y1="322.20" x2="417.30" y2="325.40" stroke="#333" stroke-width="0.8" />
<line x1="418.46" y1="322.20" x2="418.46" y2="325.40" stroke="#333" stroke-width="0.8" />
<line x1="419.48" y1="322.20" x2="419.48" y2="325.40" stroke="#333" stroke-width="0.8" />
<line x1="420.40" y1="322.20" x2="420.40" y2="327.20" stroke="#111" stroke-width="1.3" />
<line x1="426.42" y1="322.20" x2="426.42" y2="325.40" stroke="#333" stroke-width="0.8" />
<line x1="429.94" y1="322.20" x2="429.94" y2="325.40" stroke="#333" stroke-width="0.8" />
<line x1="432.44" y1="322.20" x2="432.44" y2="325.40" stroke="#333" stroke-width="0.8" />
<line x1="434.38" y1="322.20" x2="434.38" y2="325.40" stroke="#333" stroke-width="0.8" />
<line x1="435.96" y1="322.20" x2="435.96" y2="325.40" stroke="#333" stroke-width="0.8" />
<line x1="437.30" y1="322.20" x2="437.30" y2="325.40" stroke="#333" stroke-width="0.8" />
<line x1="438.46" y1="322.20" x2="438.46" y2="325.40" stroke="#333" stroke-width="0.8" />
<line x1="439.48" y1="322.20" x2="439.48" y2="325.40" stroke="#333" stroke-width="0.8" />
<line x1="440.40" y1="322.20" x2="440.40" y2="327.20" stroke="#111" stroke-width="1.3" />
<line x1="446.42" y1="322.20" x2="446.42" y2="325.40" stroke="#333" stroke-width="0.8" />
<line x1="449.94" y1="322.20" x2="449.94" y2="325.40" stroke="#333" stroke-width="0.8" />
<line x1="452.44" y1="322.20" x2="452.44" y2="325.40" stroke="#333" stroke-width="0.8" />
<line x1="454.38" y1="322.20" x2="454.38" y2="325.40" stroke="#333" stroke-width="0.8" />
<line x1="455.96" y1="322.20" x2="455.96" y2="325.40" stroke="#333" stroke-width="0.8" />
<line x1="457.30" y1="322.20" x2="457.30" y2="325.40" stroke="#333" stroke-width="0.8" />
<line x1="458.46" y1="322.20" x2="458.46" y2="325.40" stroke="#333" stroke-width="0.8" />
<line x1="459.48" y1="322.20" x2="459.48" y2="325.40" stroke="#333" stroke-width="0.8" />
<line x1="460.40" y1="322.20" x2="460.40" y2="327.20" stroke="#111" stroke-width="1.3" />
<path d="M380.8 322.2L380.8 320.5L381.9 319.9L383.0 317.7L384.0 316.7L385.0 313.1L386.0 310.5L387.0 309.6L388.0 307.6L389.0 304.1L390.0 302.7L391.0 299.3L392.0 299.1L393.0 294.8L394.0 293.5L395.0 294.7L396.0 291.4L397.1 290.1L398.3 291.6L399.4 290.7L400.3 289.2L401.2 291.6L402.1 293.0L403.0 292.1L404.0 295.5L405.0 295.4L406.0 298.6L407.0 299.9L408.0 302.0L409.0 306.0L410.0 306.0L411.0 309.5L412.0 309.6L413.0 311.3L413.9 312.5L414.7 312.8L415.6 312.3L416.4 314.1L417.3 314.8L418.1 314.5L419.0 314.7L419.9 316.5L420.9 316.1L421.8 315.8L422.7 316.6L423.6 316.4L424.5 317.6L425.5 317.2L426.4 316.5L427.3 317.6L428.2 316.0L429.2 315.8L430.1 314.7L431.0 315.5L432.0 313.1L433.0 312.4L434.0 309.5L435.0 308.9L436.0 307.6L437.0 304.6L438.0 301.8L439.0 299.9L440.1 297.2L441.2 295.1L442.3 291.8L443.2 294.6L444.1 296.4L445.0 301.4L446.0 304.5L447.0 305.7L448.0 309.1L449.0 312.7L450.0 314.9L451.0 315.7L452.0 317.7L453.0 318.9L454.0 318.9L455.0 319.3L456.0 319.9L457.0 320.6L458.0 319.9L459.0 320.1L460.0 320.1L460.0 322.2Z" fill="#050505" stroke="#050505" stroke-width="0.5" stroke-linejoin="round"/>
<text x="385.50" y="252.70" font-size="22.3">32%</text>
<line x1="426.40" y1="271.20" x2="459.80" y2="271.20" stroke="#000" stroke-width="2.0" />
<line x1="426.40" y1="263.20" x2="426.40" y2="279.00" stroke="#000" stroke-width="2.0" />
<line x1="459.80" y1="263.20" x2="459.80" y2="279.00" stroke="#000" stroke-width="2.0" />
<text x="369.00" y="278.50" font-size="7.6" font-weight="bold" text-anchor="middle" transform="rotate(-90 369.00 278.50)" textLength="34.00" lengthAdjust="spacingAndGlyphs" fill="#4a4a4a">Counts</text>
<text x="376.80" y="232.30" font-size="7.4" text-anchor="middle" transform="rotate(-90 376.80 232.30)" textLength="14.50" lengthAdjust="spacingAndGlyphs" fill="#3a3a3a">200</text>
<text x="376.80" y="321.40" font-size="8" font-weight="bold" text-anchor="middle" transform="rotate(-90 376.80 321.40)" fill="#222">0</text>
<text x="377.70" y="339.00" font-size="11.2" textLength="5.70" lengthAdjust="spacingAndGlyphs" fill="#111" stroke="#111" stroke-width="0.45">10</text>
<text x="383.80" y="334.00" font-size="9.8" textLength="4.00" lengthAdjust="spacingAndGlyphs" fill="#111" stroke="#111" stroke-width="0.4">0</text>
<text x="397.15" y="339.00" font-size="11.2" textLength="5.70" lengthAdjust="spacingAndGlyphs" fill="#111" stroke="#111" stroke-width="0.45">10</text>
<text x="403.25" y="334.00" font-size="9.8" textLength="4.00" lengthAdjust="spacingAndGlyphs" fill="#111" stroke="#111" stroke-width="0.4">1</text>
<text x="416.60" y="339.00" font-size="11.2" textLength="5.70" lengthAdjust="spacingAndGlyphs" fill="#111" stroke="#111" stroke-width="0.45">10</text>
<text x="422.70" y="334.00" font-size="9.8" textLength="4.00" lengthAdjust="spacingAndGlyphs" fill="#111" stroke="#111" stroke-width="0.4">2</text>
<text x="436.05" y="339.00" font-size="11.2" textLength="5.70" lengthAdjust="spacingAndGlyphs" fill="#111" stroke="#111" stroke-width="0.45">10</text>
<text x="442.15" y="334.00" font-size="9.8" textLength="4.00" lengthAdjust="spacingAndGlyphs" fill="#111" stroke="#111" stroke-width="0.4">3</text>
<text x="455.50" y="339.00" font-size="11.2" textLength="5.70" lengthAdjust="spacingAndGlyphs" fill="#111" stroke="#111" stroke-width="0.45">10</text>
<text x="461.60" y="334.00" font-size="9.8" textLength="4.00" lengthAdjust="spacingAndGlyphs" fill="#111" stroke="#111" stroke-width="0.4">4</text>
<text x="420.00" y="350.50" font-size="10" font-weight="bold" text-anchor="middle" textLength="17.60" lengthAdjust="spacingAndGlyphs" fill="#222">FL1-H</text>
<line x1="53.30" y1="367.50" x2="135.50" y2="367.50" stroke="#3c3c3c" stroke-width="1.5" />
<line x1="135.00" y1="367.50" x2="135.00" y2="458.60" stroke="#9a9a9a" stroke-width="1.0" />
<line x1="54.00" y1="368.50" x2="54.00" y2="458.60" stroke="#888" stroke-width="0.5" />
<line x1="53.80" y1="368.50" x2="53.80" y2="458.60" stroke="#3a3a3a" stroke-width="2.0" stroke-dasharray="0.9 1.35"/>
<line x1="53.00" y1="458.90" x2="135.80" y2="458.90" stroke="#111" stroke-width="1.3" />
<line x1="53.80" y1="458.60" x2="53.80" y2="463.60" stroke="#111" stroke-width="1.3" />
<line x1="59.91" y1="458.60" x2="59.91" y2="461.80" stroke="#333" stroke-width="0.8" />
<line x1="63.49" y1="458.60" x2="63.49" y2="461.80" stroke="#333" stroke-width="0.8" />
<line x1="66.02" y1="458.60" x2="66.02" y2="461.80" stroke="#333" stroke-width="0.8" />
<line x1="67.99" y1="458.60" x2="67.99" y2="461.80" stroke="#333" stroke-width="0.8" />
<line x1="69.60" y1="458.60" x2="69.60" y2="461.80" stroke="#333" stroke-width="0.8" />
<line x1="70.96" y1="458.60" x2="70.96" y2="461.80" stroke="#333" stroke-width="0.8" />
<line x1="72.13" y1="458.60" x2="72.13" y2="461.80" stroke="#333" stroke-width="0.8" />
<line x1="73.17" y1="458.60" x2="73.17" y2="461.80" stroke="#333" stroke-width="0.8" />
<line x1="74.10" y1="458.60" x2="74.10" y2="463.60" stroke="#111" stroke-width="1.3" />
<line x1="80.21" y1="458.60" x2="80.21" y2="461.80" stroke="#333" stroke-width="0.8" />
<line x1="83.79" y1="458.60" x2="83.79" y2="461.80" stroke="#333" stroke-width="0.8" />
<line x1="86.32" y1="458.60" x2="86.32" y2="461.80" stroke="#333" stroke-width="0.8" />
<line x1="88.29" y1="458.60" x2="88.29" y2="461.80" stroke="#333" stroke-width="0.8" />
<line x1="89.90" y1="458.60" x2="89.90" y2="461.80" stroke="#333" stroke-width="0.8" />
<line x1="91.26" y1="458.60" x2="91.26" y2="461.80" stroke="#333" stroke-width="0.8" />
<line x1="92.43" y1="458.60" x2="92.43" y2="461.80" stroke="#333" stroke-width="0.8" />
<line x1="93.47" y1="458.60" x2="93.47" y2="461.80" stroke="#333" stroke-width="0.8" />
<line x1="94.40" y1="458.60" x2="94.40" y2="463.60" stroke="#111" stroke-width="1.3" />
<line x1="100.51" y1="458.60" x2="100.51" y2="461.80" stroke="#333" stroke-width="0.8" />
<line x1="104.09" y1="458.60" x2="104.09" y2="461.80" stroke="#333" stroke-width="0.8" />
<line x1="106.62" y1="458.60" x2="106.62" y2="461.80" stroke="#333" stroke-width="0.8" />
<line x1="108.59" y1="458.60" x2="108.59" y2="461.80" stroke="#333" stroke-width="0.8" />
<line x1="110.20" y1="458.60" x2="110.20" y2="461.80" stroke="#333" stroke-width="0.8" />
<line x1="111.56" y1="458.60" x2="111.56" y2="461.80" stroke="#333" stroke-width="0.8" />
<line x1="112.73" y1="458.60" x2="112.73" y2="461.80" stroke="#333" stroke-width="0.8" />
<line x1="113.77" y1="458.60" x2="113.77" y2="461.80" stroke="#333" stroke-width="0.8" />
<line x1="114.70" y1="458.60" x2="114.70" y2="463.60" stroke="#111" stroke-width="1.3" />
<line x1="120.81" y1="458.60" x2="120.81" y2="461.80" stroke="#333" stroke-width="0.8" />
<line x1="124.39" y1="458.60" x2="124.39" y2="461.80" stroke="#333" stroke-width="0.8" />
<line x1="126.92" y1="458.60" x2="126.92" y2="461.80" stroke="#333" stroke-width="0.8" />
<line x1="128.89" y1="458.60" x2="128.89" y2="461.80" stroke="#333" stroke-width="0.8" />
<line x1="130.50" y1="458.60" x2="130.50" y2="461.80" stroke="#333" stroke-width="0.8" />
<line x1="131.86" y1="458.60" x2="131.86" y2="461.80" stroke="#333" stroke-width="0.8" />
<line x1="133.03" y1="458.60" x2="133.03" y2="461.80" stroke="#333" stroke-width="0.8" />
<line x1="134.07" y1="458.60" x2="134.07" y2="461.80" stroke="#333" stroke-width="0.8" />
<line x1="135.00" y1="458.60" x2="135.00" y2="463.60" stroke="#111" stroke-width="1.3" />
<path d="M54.3 458.6L54.3 457.1L55.2 457.7L56.2 457.6L57.1 457.4L58.1 457.0L59.0 457.5L60.0 457.4L60.9 456.6L61.8 455.9L62.6 454.6L63.5 453.2L64.5 451.4L65.5 448.4L66.5 443.8L67.5 441.6L68.5 434.1L69.5 429.9L70.8 425.0L72.0 426.5L73.0 426.4L74.0 429.3L75.0 430.5L76.0 431.1L77.0 436.3L78.0 440.0L79.1 441.4L80.2 446.6L81.3 447.2L82.2 447.6L83.2 450.1L84.1 449.7L85.1 452.2L86.0 451.9L86.9 452.5L87.9 452.7L88.8 453.5L89.7 453.6L90.6 453.8L91.6 455.4L92.5 454.6L93.4 455.3L94.3 454.0L95.2 454.7L96.1 453.9L97.0 453.0L98.0 451.6L99.0 449.2L100.0 447.4L101.0 444.0L101.9 443.0L102.8 441.6L103.6 437.1L104.5 438.1L105.5 436.5L106.5 433.1L107.5 432.0L108.4 431.9L109.3 431.2L110.2 433.3L111.1 430.6L112.0 429.1L112.9 429.5L113.7 432.3L114.6 433.9L115.4 432.4L116.3 433.0L117.4 435.1L118.4 438.5L119.5 439.1L120.5 443.1L121.5 446.5L122.5 449.3L123.8 451.1L125.0 453.3L126.0 454.2L127.0 455.7L128.0 455.4L129.0 456.1L129.9 455.9L130.7 455.8L131.6 455.9L132.4 457.1L133.3 457.2L134.1 456.8L135.0 457.2L135.0 458.6Z" fill="#050505" stroke="#050505" stroke-width="0.5" stroke-linejoin="round"/>
<text x="56.30" y="387.40" font-size="22.3">53%</text>
<line x1="97.00" y1="410.00" x2="134.30" y2="410.00" stroke="#000" stroke-width="2.0" />
<line x1="97.00" y1="402.00" x2="97.00" y2="418.00" stroke="#000" stroke-width="2.0" />
<line x1="134.30" y1="402.00" x2="134.30" y2="418.00" stroke="#000" stroke-width="2.0" />
<text x="40.30" y="414.55" font-size="7.6" font-weight="bold" text-anchor="middle" transform="rotate(-90 40.30 414.55)" textLength="34.00" lengthAdjust="spacingAndGlyphs" fill="#4a4a4a">Counts</text>
<text x="50.20" y="368.00" font-size="7.4" text-anchor="middle" transform="rotate(-90 50.20 368.00)" textLength="14.50" lengthAdjust="spacingAndGlyphs" fill="#3a3a3a">200</text>
<text x="50.20" y="457.80" font-size="8" font-weight="bold" text-anchor="middle" transform="rotate(-90 50.20 457.80)" fill="#222">0</text>
<text x="51.10" y="475.40" font-size="11.2" textLength="5.70" lengthAdjust="spacingAndGlyphs" fill="#111" stroke="#111" stroke-width="0.45">10</text>
<text x="57.20" y="470.40" font-size="9.8" textLength="4.00" lengthAdjust="spacingAndGlyphs" fill="#111" stroke="#111" stroke-width="0.4">0</text>
<text x="70.85" y="475.40" font-size="11.2" textLength="5.70" lengthAdjust="spacingAndGlyphs" fill="#111" stroke="#111" stroke-width="0.45">10</text>
<text x="76.95" y="470.40" font-size="9.8" textLength="4.00" lengthAdjust="spacingAndGlyphs" fill="#111" stroke="#111" stroke-width="0.4">1</text>
<text x="90.60" y="475.40" font-size="11.2" textLength="5.70" lengthAdjust="spacingAndGlyphs" fill="#111" stroke="#111" stroke-width="0.45">10</text>
<text x="96.70" y="470.40" font-size="9.8" textLength="4.00" lengthAdjust="spacingAndGlyphs" fill="#111" stroke="#111" stroke-width="0.4">2</text>
<text x="110.35" y="475.40" font-size="11.2" textLength="5.70" lengthAdjust="spacingAndGlyphs" fill="#111" stroke="#111" stroke-width="0.45">10</text>
<text x="116.45" y="470.40" font-size="9.8" textLength="4.00" lengthAdjust="spacingAndGlyphs" fill="#111" stroke="#111" stroke-width="0.4">3</text>
<text x="130.10" y="475.40" font-size="11.2" textLength="5.70" lengthAdjust="spacingAndGlyphs" fill="#111" stroke="#111" stroke-width="0.45">10</text>
<text x="136.20" y="470.40" font-size="9.8" textLength="4.00" lengthAdjust="spacingAndGlyphs" fill="#111" stroke="#111" stroke-width="0.4">4</text>
<text x="94.00" y="486.90" font-size="10" font-weight="bold" text-anchor="middle" textLength="17.60" lengthAdjust="spacingAndGlyphs" fill="#222">FL1-H</text>
<line x1="163.30" y1="367.00" x2="244.30" y2="367.00" stroke="#3c3c3c" stroke-width="1.5" />
<line x1="243.80" y1="367.00" x2="243.80" y2="458.60" stroke="#9a9a9a" stroke-width="1.0" />
<line x1="164.00" y1="368.00" x2="164.00" y2="458.60" stroke="#888" stroke-width="0.5" />
<line x1="163.80" y1="368.00" x2="163.80" y2="458.60" stroke="#3a3a3a" stroke-width="2.0" stroke-dasharray="0.9 1.35"/>
<line x1="163.00" y1="458.90" x2="244.60" y2="458.90" stroke="#111" stroke-width="1.3" />
<line x1="163.80" y1="458.60" x2="163.80" y2="463.60" stroke="#111" stroke-width="1.3" />
<line x1="169.82" y1="458.60" x2="169.82" y2="461.80" stroke="#333" stroke-width="0.8" />
<line x1="173.34" y1="458.60" x2="173.34" y2="461.80" stroke="#333" stroke-width="0.8" />
<line x1="175.84" y1="458.60" x2="175.84" y2="461.80" stroke="#333" stroke-width="0.8" />
<line x1="177.78" y1="458.60" x2="177.78" y2="461.80" stroke="#333" stroke-width="0.8" />
<line x1="179.36" y1="458.60" x2="179.36" y2="461.80" stroke="#333" stroke-width="0.8" />
<line x1="180.70" y1="458.60" x2="180.70" y2="461.80" stroke="#333" stroke-width="0.8" />
<line x1="181.86" y1="458.60" x2="181.86" y2="461.80" stroke="#333" stroke-width="0.8" />
<line x1="182.88" y1="458.60" x2="182.88" y2="461.80" stroke="#333" stroke-width="0.8" />
<line x1="183.80" y1="458.60" x2="183.80" y2="463.60" stroke="#111" stroke-width="1.3" />
<line x1="189.82" y1="458.60" x2="189.82" y2="461.80" stroke="#333" stroke-width="0.8" />
<line x1="193.34" y1="458.60" x2="193.34" y2="461.80" stroke="#333" stroke-width="0.8" />
<line x1="195.84" y1="458.60" x2="195.84" y2="461.80" stroke="#333" stroke-width="0.8" />
<line x1="197.78" y1="458.60" x2="197.78" y2="461.80" stroke="#333" stroke-width="0.8" />
<line x1="199.36" y1="458.60" x2="199.36" y2="461.80" stroke="#333" stroke-width="0.8" />
<line x1="200.70" y1="458.60" x2="200.70" y2="461.80" stroke="#333" stroke-width="0.8" />
<line x1="201.86" y1="458.60" x2="201.86" y2="461.80" stroke="#333" stroke-width="0.8" />
<line x1="202.88" y1="458.60" x2="202.88" y2="461.80" stroke="#333" stroke-width="0.8" />
<line x1="203.80" y1="458.60" x2="203.80" y2="463.60" stroke="#111" stroke-width="1.3" />
<line x1="209.82" y1="458.60" x2="209.82" y2="461.80" stroke="#333" stroke-width="0.8" />
<line x1="213.34" y1="458.60" x2="213.34" y2="461.80" stroke="#333" stroke-width="0.8" />
<line x1="215.84" y1="458.60" x2="215.84" y2="461.80" stroke="#333" stroke-width="0.8" />
<line x1="217.78" y1="458.60" x2="217.78" y2="461.80" stroke="#333" stroke-width="0.8" />
<line x1="219.36" y1="458.60" x2="219.36" y2="461.80" stroke="#333" stroke-width="0.8" />
<line x1="220.70" y1="458.60" x2="220.70" y2="461.80" stroke="#333" stroke-width="0.8" />
<line x1="221.86" y1="458.60" x2="221.86" y2="461.80" stroke="#333" stroke-width="0.8" />
<line x1="222.88" y1="458.60" x2="222.88" y2="461.80" stroke="#333" stroke-width="0.8" />
<line x1="223.80" y1="458.60" x2="223.80" y2="463.60" stroke="#111" stroke-width="1.3" />
<line x1="229.82" y1="458.60" x2="229.82" y2="461.80" stroke="#333" stroke-width="0.8" />
<line x1="233.34" y1="458.60" x2="233.34" y2="461.80" stroke="#333" stroke-width="0.8" />
<line x1="235.84" y1="458.60" x2="235.84" y2="461.80" stroke="#333" stroke-width="0.8" />
<line x1="237.78" y1="458.60" x2="237.78" y2="461.80" stroke="#333" stroke-width="0.8" />
<line x1="239.36" y1="458.60" x2="239.36" y2="461.80" stroke="#333" stroke-width="0.8" />
<line x1="240.70" y1="458.60" x2="240.70" y2="461.80" stroke="#333" stroke-width="0.8" />
<line x1="241.86" y1="458.60" x2="241.86" y2="461.80" stroke="#333" stroke-width="0.8" />
<line x1="242.88" y1="458.60" x2="242.88" y2="461.80" stroke="#333" stroke-width="0.8" />
<line x1="243.80" y1="458.60" x2="243.80" y2="463.60" stroke="#111" stroke-width="1.3" />
<path d="M164.3 458.6L164.3 458.0L165.2 457.0L166.2 456.9L167.1 458.0L168.1 456.9L169.0 456.5L169.9 456.6L170.9 455.3L171.9 454.9L172.8 452.5L174.1 448.7L175.3 440.4L176.2 432.8L177.2 424.7L178.1 412.9L179.0 403.7L179.8 396.9L180.5 390.7L181.3 396.3L182.2 399.4L183.1 404.9L184.0 411.7L185.0 421.5L186.0 427.3L187.0 435.0L188.0 439.9L189.2 445.5L190.5 448.9L191.4 450.0L192.3 450.6L193.2 450.5L194.2 452.5L195.1 451.8L196.0 453.0L196.9 453.6L197.9 453.3L198.8 452.7L199.7 454.0L200.6 453.9L201.6 453.3L202.5 453.1L203.4 453.8L204.4 452.7L205.3 454.0L206.2 453.0L207.1 452.6L208.1 452.1L209.0 452.3L209.9 452.4L210.7 450.8L211.6 450.3L212.4 450.2L213.3 449.0L214.1 449.1L215.0 448.6L215.9 448.0L216.7 448.1L217.6 447.2L218.4 445.6L219.3 447.4L220.1 445.4L221.0 445.3L222.0 444.9L223.0 445.9L224.0 445.8L225.0 444.5L226.0 444.6L227.0 444.4L228.0 447.3L229.0 446.2L230.0 448.1L231.0 449.1L232.0 450.6L233.0 451.7L233.9 452.2L234.8 452.9L235.7 454.7L236.6 455.9L237.5 456.2L238.4 455.9L239.2 456.8L240.1 456.2L240.9 456.9L241.8 457.6L242.6 457.9L243.5 457.5L243.5 458.6Z" fill="#050505" stroke="#050505" stroke-width="0.5" stroke-linejoin="round"/>
<text x="167.60" y="387.40" font-size="22.3">20%</text>
<line x1="207.00" y1="410.00" x2="243.30" y2="410.00" stroke="#000" stroke-width="2.0" />
<line x1="207.00" y1="402.00" x2="207.00" y2="418.00" stroke="#000" stroke-width="2.0" />
<line x1="243.30" y1="402.00" x2="243.30" y2="418.00" stroke="#000" stroke-width="2.0" />
<text x="149.60" y="414.30" font-size="7.6" font-weight="bold" text-anchor="middle" transform="rotate(-90 149.60 414.30)" textLength="34.00" lengthAdjust="spacingAndGlyphs" fill="#4a4a4a">Counts</text>
<text x="160.20" y="367.50" font-size="7.4" text-anchor="middle" transform="rotate(-90 160.20 367.50)" textLength="14.50" lengthAdjust="spacingAndGlyphs" fill="#3a3a3a">200</text>
<text x="160.20" y="457.80" font-size="8" font-weight="bold" text-anchor="middle" transform="rotate(-90 160.20 457.80)" fill="#222">0</text>
<text x="161.10" y="475.40" font-size="11.2" textLength="5.70" lengthAdjust="spacingAndGlyphs" fill="#111" stroke="#111" stroke-width="0.45">10</text>
<text x="167.20" y="470.40" font-size="9.8" textLength="4.00" lengthAdjust="spacingAndGlyphs" fill="#111" stroke="#111" stroke-width="0.4">0</text>
<text x="180.55" y="475.40" font-size="11.2" textLength="5.70" lengthAdjust="spacingAndGlyphs" fill="#111" stroke="#111" stroke-width="0.45">10</text>
<text x="186.65" y="470.40" font-size="9.8" textLength="4.00" lengthAdjust="spacingAndGlyphs" fill="#111" stroke="#111" stroke-width="0.4">1</text>
<text x="200.00" y="475.40" font-size="11.2" textLength="5.70" lengthAdjust="spacingAndGlyphs" fill="#111" stroke="#111" stroke-width="0.45">10</text>
<text x="206.10" y="470.40" font-size="9.8" textLength="4.00" lengthAdjust="spacingAndGlyphs" fill="#111" stroke="#111" stroke-width="0.4">2</text>
<text x="219.45" y="475.40" font-size="11.2" textLength="5.70" lengthAdjust="spacingAndGlyphs" fill="#111" stroke="#111" stroke-width="0.45">10</text>
<text x="225.55" y="470.40" font-size="9.8" textLength="4.00" lengthAdjust="spacingAndGlyphs" fill="#111" stroke="#111" stroke-width="0.4">3</text>
<text x="238.90" y="475.40" font-size="11.2" textLength="5.70" lengthAdjust="spacingAndGlyphs" fill="#111" stroke="#111" stroke-width="0.45">10</text>
<text x="245.00" y="470.40" font-size="9.8" textLength="4.00" lengthAdjust="spacingAndGlyphs" fill="#111" stroke="#111" stroke-width="0.4">4</text>
<text x="203.40" y="486.90" font-size="10" font-weight="bold" text-anchor="middle" textLength="17.60" lengthAdjust="spacingAndGlyphs" fill="#222">FL1-H</text>
<line x1="272.50" y1="367.00" x2="353.00" y2="367.00" stroke="#3c3c3c" stroke-width="1.5" />
<line x1="352.50" y1="367.00" x2="352.50" y2="458.20" stroke="#9a9a9a" stroke-width="1.0" />
<line x1="273.20" y1="368.00" x2="273.20" y2="458.20" stroke="#888" stroke-width="0.5" />
<line x1="273.00" y1="368.00" x2="273.00" y2="458.20" stroke="#3a3a3a" stroke-width="2.0" stroke-dasharray="0.9 1.35"/>
<line x1="272.20" y1="458.50" x2="353.30" y2="458.50" stroke="#111" stroke-width="1.3" />
<line x1="273.00" y1="458.20" x2="273.00" y2="463.20" stroke="#111" stroke-width="1.3" />
<line x1="278.98" y1="458.20" x2="278.98" y2="461.40" stroke="#333" stroke-width="0.8" />
<line x1="282.48" y1="458.20" x2="282.48" y2="461.40" stroke="#333" stroke-width="0.8" />
<line x1="284.97" y1="458.20" x2="284.97" y2="461.40" stroke="#333" stroke-width="0.8" />
<line x1="286.89" y1="458.20" x2="286.89" y2="461.40" stroke="#333" stroke-width="0.8" />
<line x1="288.47" y1="458.20" x2="288.47" y2="461.40" stroke="#333" stroke-width="0.8" />
<line x1="289.80" y1="458.20" x2="289.80" y2="461.40" stroke="#333" stroke-width="0.8" />
<line x1="290.95" y1="458.20" x2="290.95" y2="461.40" stroke="#333" stroke-width="0.8" />
<line x1="291.97" y1="458.20" x2="291.97" y2="461.40" stroke="#333" stroke-width="0.8" />
<line x1="292.88" y1="458.20" x2="292.88" y2="463.20" stroke="#111" stroke-width="1.3" />
<line x1="298.86" y1="458.20" x2="298.86" y2="461.40" stroke="#333" stroke-width="0.8" />
<line x1="302.36" y1="458.20" x2="302.36" y2="461.40" stroke="#333" stroke-width="0.8" />
<line x1="304.84" y1="458.20" x2="304.84" y2="461.40" stroke="#333" stroke-width="0.8" />
<line x1="306.77" y1="458.20" x2="306.77" y2="461.40" stroke="#333" stroke-width="0.8" />
<line x1="308.34" y1="458.20" x2="308.34" y2="461.40" stroke="#333" stroke-width="0.8" />
<line x1="309.67" y1="458.20" x2="309.67" y2="461.40" stroke="#333" stroke-width="0.8" />
<line x1="310.82" y1="458.20" x2="310.82" y2="461.40" stroke="#333" stroke-width="0.8" />
<line x1="311.84" y1="458.20" x2="311.84" y2="461.40" stroke="#333" stroke-width="0.8" />
<line x1="312.75" y1="458.20" x2="312.75" y2="463.20" stroke="#111" stroke-width="1.3" />
<line x1="318.73" y1="458.20" x2="318.73" y2="461.40" stroke="#333" stroke-width="0.8" />
<line x1="322.23" y1="458.20" x2="322.23" y2="461.40" stroke="#333" stroke-width="0.8" />
<line x1="324.72" y1="458.20" x2="324.72" y2="461.40" stroke="#333" stroke-width="0.8" />
<line x1="326.64" y1="458.20" x2="326.64" y2="461.40" stroke="#333" stroke-width="0.8" />
<line x1="328.22" y1="458.20" x2="328.22" y2="461.40" stroke="#333" stroke-width="0.8" />
<line x1="329.55" y1="458.20" x2="329.55" y2="461.40" stroke="#333" stroke-width="0.8" />
<line x1="330.70" y1="458.20" x2="330.70" y2="461.40" stroke="#333" stroke-width="0.8" />
<line x1="331.72" y1="458.20" x2="331.72" y2="461.40" stroke="#333" stroke-width="0.8" />
<line x1="332.62" y1="458.20" x2="332.62" y2="463.20" stroke="#111" stroke-width="1.3" />
<line x1="338.61" y1="458.20" x2="338.61" y2="461.40" stroke="#333" stroke-width="0.8" />
<line x1="342.11" y1="458.20" x2="342.11" y2="461.40" stroke="#333" stroke-width="0.8" />
<line x1="344.59" y1="458.20" x2="344.59" y2="461.40" stroke="#333" stroke-width="0.8" />
<line x1="346.52" y1="458.20" x2="346.52" y2="461.40" stroke="#333" stroke-width="0.8" />
<line x1="348.09" y1="458.20" x2="348.09" y2="461.40" stroke="#333" stroke-width="0.8" />
<line x1="349.42" y1="458.20" x2="349.42" y2="461.40" stroke="#333" stroke-width="0.8" />
<line x1="350.57" y1="458.20" x2="350.57" y2="461.40" stroke="#333" stroke-width="0.8" />
<line x1="351.59" y1="458.20" x2="351.59" y2="461.40" stroke="#333" stroke-width="0.8" />
<line x1="352.50" y1="458.20" x2="352.50" y2="463.20" stroke="#111" stroke-width="1.3" />
<path d="M273.5 458.2L273.5 457.8L274.5 457.8L275.5 457.6L276.5 456.5L277.5 456.9L278.5 456.4L279.5 455.5L280.5 453.3L281.5 451.4L282.8 446.4L284.0 439.1L285.2 431.7L286.5 422.1L287.8 417.4L289.0 416.4L289.8 414.0L290.5 414.6L291.8 418.0L293.0 420.4L293.9 421.3L294.8 427.4L295.7 430.0L296.6 433.4L297.5 435.5L298.4 438.9L299.2 439.2L300.1 442.6L301.0 443.1L301.9 445.6L302.9 447.7L303.8 448.4L304.9 448.8L305.9 450.5L306.9 451.8L308.0 452.2L308.9 452.3L309.8 453.1L310.7 452.8L311.6 453.2L312.5 453.5L313.4 454.2L314.3 452.9L315.2 452.4L316.1 451.8L317.0 451.2L318.0 450.8L319.0 450.2L320.0 449.5L321.0 447.1L322.0 446.2L323.0 444.9L324.0 443.4L325.0 443.2L326.0 441.2L327.0 439.2L327.9 438.0L328.8 439.4L329.8 438.4L330.7 438.1L331.6 435.3L332.5 436.2L333.4 437.6L334.2 436.8L335.1 438.8L336.0 436.8L337.0 441.0L338.0 440.4L339.0 443.9L340.0 444.8L340.9 448.5L341.9 450.5L342.9 453.2L343.8 454.3L344.9 455.3L345.9 455.4L346.9 456.5L348.0 456.5L348.9 456.2L349.7 457.2L350.6 456.6L351.4 456.5L352.3 456.5L352.3 458.2Z" fill="#050505" stroke="#050505" stroke-width="0.5" stroke-linejoin="round"/>
<text x="277.60" y="387.40" font-size="22.3">37%</text>
<line x1="315.50" y1="409.50" x2="351.30" y2="409.50" stroke="#000" stroke-width="2.0" />
<line x1="315.50" y1="401.00" x2="315.50" y2="417.50" stroke="#000" stroke-width="2.0" />
<line x1="351.30" y1="401.00" x2="351.30" y2="417.50" stroke="#000" stroke-width="2.0" />
<text x="258.50" y="414.10" font-size="7.6" font-weight="bold" text-anchor="middle" transform="rotate(-90 258.50 414.10)" textLength="34.00" lengthAdjust="spacingAndGlyphs" fill="#4a4a4a">Counts</text>
<text x="269.40" y="367.50" font-size="7.4" text-anchor="middle" transform="rotate(-90 269.40 367.50)" textLength="14.50" lengthAdjust="spacingAndGlyphs" fill="#3a3a3a">200</text>
<text x="269.40" y="457.40" font-size="8" font-weight="bold" text-anchor="middle" transform="rotate(-90 269.40 457.40)" fill="#222">0</text>
<text x="270.30" y="475.00" font-size="11.2" textLength="5.70" lengthAdjust="spacingAndGlyphs" fill="#111" stroke="#111" stroke-width="0.45">10</text>
<text x="276.40" y="470.00" font-size="9.8" textLength="4.00" lengthAdjust="spacingAndGlyphs" fill="#111" stroke="#111" stroke-width="0.4">0</text>
<text x="289.62" y="475.00" font-size="11.2" textLength="5.70" lengthAdjust="spacingAndGlyphs" fill="#111" stroke="#111" stroke-width="0.45">10</text>
<text x="295.72" y="470.00" font-size="9.8" textLength="4.00" lengthAdjust="spacingAndGlyphs" fill="#111" stroke="#111" stroke-width="0.4">1</text>
<text x="308.95" y="475.00" font-size="11.2" textLength="5.70" lengthAdjust="spacingAndGlyphs" fill="#111" stroke="#111" stroke-width="0.45">10</text>
<text x="315.05" y="470.00" font-size="9.8" textLength="4.00" lengthAdjust="spacingAndGlyphs" fill="#111" stroke="#111" stroke-width="0.4">2</text>
<text x="328.28" y="475.00" font-size="11.2" textLength="5.70" lengthAdjust="spacingAndGlyphs" fill="#111" stroke="#111" stroke-width="0.45">10</text>
<text x="334.38" y="470.00" font-size="9.8" textLength="4.00" lengthAdjust="spacingAndGlyphs" fill="#111" stroke="#111" stroke-width="0.4">3</text>
<text x="347.60" y="475.00" font-size="11.2" textLength="5.70" lengthAdjust="spacingAndGlyphs" fill="#111" stroke="#111" stroke-width="0.45">10</text>
<text x="353.70" y="470.00" font-size="9.8" textLength="4.00" lengthAdjust="spacingAndGlyphs" fill="#111" stroke="#111" stroke-width="0.4">4</text>
<text x="312.35" y="486.50" font-size="10" font-weight="bold" text-anchor="middle" textLength="17.60" lengthAdjust="spacingAndGlyphs" fill="#222">FL1-H</text>
<line x1="379.90" y1="366.50" x2="462.80" y2="366.50" stroke="#3c3c3c" stroke-width="1.5" />
<line x1="462.30" y1="366.50" x2="462.30" y2="458.20" stroke="#9a9a9a" stroke-width="1.0" />
<line x1="380.60" y1="367.50" x2="380.60" y2="458.20" stroke="#888" stroke-width="0.5" />
<line x1="380.40" y1="367.50" x2="380.40" y2="458.20" stroke="#3a3a3a" stroke-width="2.0" stroke-dasharray="0.9 1.35"/>
<line x1="379.60" y1="458.50" x2="463.10" y2="458.50" stroke="#111" stroke-width="1.3" />
<line x1="380.40" y1="458.20" x2="380.40" y2="463.20" stroke="#111" stroke-width="1.3" />
<line x1="386.56" y1="458.20" x2="386.56" y2="461.40" stroke="#333" stroke-width="0.8" />
<line x1="390.17" y1="458.20" x2="390.17" y2="461.40" stroke="#333" stroke-width="0.8" />
<line x1="392.73" y1="458.20" x2="392.73" y2="461.40" stroke="#333" stroke-width="0.8" />
<line x1="394.71" y1="458.20" x2="394.71" y2="461.40" stroke="#333" stroke-width="0.8" />
<line x1="396.33" y1="458.20" x2="396.33" y2="461.40" stroke="#333" stroke-width="0.8" />
<line x1="397.70" y1="458.20" x2="397.70" y2="461.40" stroke="#333" stroke-width="0.8" />
<line x1="398.89" y1="458.20" x2="398.89" y2="461.40" stroke="#333" stroke-width="0.8" />
<line x1="399.94" y1="458.20" x2="399.94" y2="461.40" stroke="#333" stroke-width="0.8" />
<line x1="400.88" y1="458.20" x2="400.88" y2="463.20" stroke="#111" stroke-width="1.3" />
<line x1="407.04" y1="458.20" x2="407.04" y2="461.40" stroke="#333" stroke-width="0.8" />
<line x1="410.64" y1="458.20" x2="410.64" y2="461.40" stroke="#333" stroke-width="0.8" />
<line x1="413.20" y1="458.20" x2="413.20" y2="461.40" stroke="#333" stroke-width="0.8" />
<line x1="415.19" y1="458.20" x2="415.19" y2="461.40" stroke="#333" stroke-width="0.8" />
<line x1="416.81" y1="458.20" x2="416.81" y2="461.40" stroke="#333" stroke-width="0.8" />
<line x1="418.18" y1="458.20" x2="418.18" y2="461.40" stroke="#333" stroke-width="0.8" />
<line x1="419.37" y1="458.20" x2="419.37" y2="461.40" stroke="#333" stroke-width="0.8" />
<line x1="420.41" y1="458.20" x2="420.41" y2="461.40" stroke="#333" stroke-width="0.8" />
<line x1="421.35" y1="458.20" x2="421.35" y2="463.20" stroke="#111" stroke-width="1.3" />
<line x1="427.51" y1="458.20" x2="427.51" y2="461.40" stroke="#333" stroke-width="0.8" />
<line x1="431.12" y1="458.20" x2="431.12" y2="461.40" stroke="#333" stroke-width="0.8" />
<line x1="433.68" y1="458.20" x2="433.68" y2="461.40" stroke="#333" stroke-width="0.8" />
<line x1="435.66" y1="458.20" x2="435.66" y2="461.40" stroke="#333" stroke-width="0.8" />
<line x1="437.28" y1="458.20" x2="437.28" y2="461.40" stroke="#333" stroke-width="0.8" />
<line x1="438.65" y1="458.20" x2="438.65" y2="461.40" stroke="#333" stroke-width="0.8" />
<line x1="439.84" y1="458.20" x2="439.84" y2="461.40" stroke="#333" stroke-width="0.8" />
<line x1="440.89" y1="458.20" x2="440.89" y2="461.40" stroke="#333" stroke-width="0.8" />
<line x1="441.82" y1="458.20" x2="441.82" y2="463.20" stroke="#111" stroke-width="1.3" />
<line x1="447.99" y1="458.20" x2="447.99" y2="461.40" stroke="#333" stroke-width="0.8" />
<line x1="451.59" y1="458.20" x2="451.59" y2="461.40" stroke="#333" stroke-width="0.8" />
<line x1="454.15" y1="458.20" x2="454.15" y2="461.40" stroke="#333" stroke-width="0.8" />
<line x1="456.14" y1="458.20" x2="456.14" y2="461.40" stroke="#333" stroke-width="0.8" />
<line x1="457.76" y1="458.20" x2="457.76" y2="461.40" stroke="#333" stroke-width="0.8" />
<line x1="459.13" y1="458.20" x2="459.13" y2="461.40" stroke="#333" stroke-width="0.8" />
<line x1="460.32" y1="458.20" x2="460.32" y2="461.40" stroke="#333" stroke-width="0.8" />
<line x1="461.36" y1="458.20" x2="461.36" y2="461.40" stroke="#333" stroke-width="0.8" />
<line x1="462.30" y1="458.20" x2="462.30" y2="463.20" stroke="#111" stroke-width="1.3" />
<path d="M380.9 458.2L380.9 457.5L381.8 457.7L382.6 456.8L383.5 457.7L384.4 456.7L385.3 457.1L386.1 456.2L387.0 456.8L388.0 455.3L389.0 455.0L390.0 453.8L391.0 452.5L392.0 448.7L393.0 445.3L394.0 441.6L395.0 432.8L396.0 426.9L397.0 422.9L398.2 414.5L399.5 407.3L400.2 404.1L401.0 405.8L402.0 404.9L403.0 412.1L404.0 417.2L405.0 421.2L406.0 427.3L407.0 431.9L408.0 438.2L409.0 441.6L410.0 445.0L411.0 447.0L412.0 447.3L413.0 449.9L414.0 448.8L415.0 449.6L416.0 451.4L417.0 452.2L418.0 452.6L418.9 453.1L419.7 453.2L420.6 452.5L421.5 453.5L422.3 453.9L423.2 452.5L424.2 452.9L425.1 451.7L426.1 450.8L427.0 450.7L428.0 450.3L429.0 450.2L430.0 447.1L431.0 446.7L432.0 446.7L433.0 445.2L434.0 443.7L435.0 441.7L436.0 441.7L437.0 439.4L438.0 440.0L438.9 439.4L439.8 438.1L440.6 439.0L441.5 437.2L442.7 435.4L443.9 435.3L444.9 434.6L446.0 436.9L447.0 440.2L448.0 442.5L449.0 446.0L449.9 445.8L450.8 447.9L451.6 449.2L452.5 451.8L453.4 452.7L454.3 453.9L455.2 455.2L456.1 454.9L457.0 456.6L458.0 456.5L459.0 456.9L460.0 456.8L461.0 457.0L462.0 456.9L462.0 458.2Z" fill="#050505" stroke="#050505" stroke-width="0.5" stroke-linejoin="round"/>
<text x="385.50" y="386.80" font-size="22.3">34%</text>
<line x1="423.90" y1="408.70" x2="462.00" y2="408.70" stroke="#000" stroke-width="2.0" />
<line x1="423.90" y1="400.80" x2="423.90" y2="416.70" stroke="#000" stroke-width="2.0" />
<line x1="462.00" y1="400.80" x2="462.00" y2="416.70" stroke="#000" stroke-width="2.0" />
<text x="367.60" y="413.85" font-size="7.6" font-weight="bold" text-anchor="middle" transform="rotate(-90 367.60 413.85)" textLength="34.00" lengthAdjust="spacingAndGlyphs" fill="#4a4a4a">Counts</text>
<text x="376.80" y="367.00" font-size="7.4" text-anchor="middle" transform="rotate(-90 376.80 367.00)" textLength="14.50" lengthAdjust="spacingAndGlyphs" fill="#3a3a3a">200</text>
<text x="376.80" y="457.40" font-size="8" font-weight="bold" text-anchor="middle" transform="rotate(-90 376.80 457.40)" fill="#222">0</text>
<text x="377.70" y="475.00" font-size="11.2" textLength="5.70" lengthAdjust="spacingAndGlyphs" fill="#111" stroke="#111" stroke-width="0.45">10</text>
<text x="383.80" y="470.00" font-size="9.8" textLength="4.00" lengthAdjust="spacingAndGlyphs" fill="#111" stroke="#111" stroke-width="0.4">0</text>
<text x="397.62" y="475.00" font-size="11.2" textLength="5.70" lengthAdjust="spacingAndGlyphs" fill="#111" stroke="#111" stroke-width="0.45">10</text>
<text x="403.72" y="470.00" font-size="9.8" textLength="4.00" lengthAdjust="spacingAndGlyphs" fill="#111" stroke="#111" stroke-width="0.4">1</text>
<text x="417.55" y="475.00" font-size="11.2" textLength="5.70" lengthAdjust="spacingAndGlyphs" fill="#111" stroke="#111" stroke-width="0.45">10</text>
<text x="423.65" y="470.00" font-size="9.8" textLength="4.00" lengthAdjust="spacingAndGlyphs" fill="#111" stroke="#111" stroke-width="0.4">2</text>
<text x="437.48" y="475.00" font-size="11.2" textLength="5.70" lengthAdjust="spacingAndGlyphs" fill="#111" stroke="#111" stroke-width="0.45">10</text>
<text x="443.57" y="470.00" font-size="9.8" textLength="4.00" lengthAdjust="spacingAndGlyphs" fill="#111" stroke="#111" stroke-width="0.4">3</text>
<text x="457.40" y="475.00" font-size="11.2" textLength="5.70" lengthAdjust="spacingAndGlyphs" fill="#111" stroke="#111" stroke-width="0.45">10</text>
<text x="463.50" y="470.00" font-size="9.8" textLength="4.00" lengthAdjust="spacingAndGlyphs" fill="#111" stroke="#111" stroke-width="0.4">4</text>
<text x="420.95" y="486.50" font-size="10" font-weight="bold" text-anchor="middle" textLength="17.60" lengthAdjust="spacingAndGlyphs" fill="#222">FL1-H</text>
<line x1="52.00" y1="502.50" x2="133.00" y2="502.50" stroke="#3c3c3c" stroke-width="1.5" />
<line x1="132.50" y1="502.50" x2="132.50" y2="591.90" stroke="#9a9a9a" stroke-width="1.0" />
<line x1="52.70" y1="503.50" x2="52.70" y2="591.90" stroke="#888" stroke-width="0.5" />
<line x1="52.50" y1="503.50" x2="52.50" y2="591.90" stroke="#3a3a3a" stroke-width="2.0" stroke-dasharray="0.9 1.35"/>
<line x1="51.70" y1="592.20" x2="133.30" y2="592.20" stroke="#111" stroke-width="1.3" />
<line x1="52.50" y1="591.90" x2="52.50" y2="596.90" stroke="#111" stroke-width="1.3" />
<line x1="58.52" y1="591.90" x2="58.52" y2="595.10" stroke="#333" stroke-width="0.8" />
<line x1="62.04" y1="591.90" x2="62.04" y2="595.10" stroke="#333" stroke-width="0.8" />
<line x1="64.54" y1="591.90" x2="64.54" y2="595.10" stroke="#333" stroke-width="0.8" />
<line x1="66.48" y1="591.90" x2="66.48" y2="595.10" stroke="#333" stroke-width="0.8" />
<line x1="68.06" y1="591.90" x2="68.06" y2="595.10" stroke="#333" stroke-width="0.8" />
<line x1="69.40" y1="591.90" x2="69.40" y2="595.10" stroke="#333" stroke-width="0.8" />
<line x1="70.56" y1="591.90" x2="70.56" y2="595.10" stroke="#333" stroke-width="0.8" />
<line x1="71.58" y1="591.90" x2="71.58" y2="595.10" stroke="#333" stroke-width="0.8" />
<line x1="72.50" y1="591.90" x2="72.50" y2="596.90" stroke="#111" stroke-width="1.3" />
<line x1="78.52" y1="591.90" x2="78.52" y2="595.10" stroke="#333" stroke-width="0.8" />
<line x1="82.04" y1="591.90" x2="82.04" y2="595.10" stroke="#333" stroke-width="0.8" />
<line x1="84.54" y1="591.90" x2="84.54" y2="595.10" stroke="#333" stroke-width="0.8" />
<line x1="86.48" y1="591.90" x2="86.48" y2="595.10" stroke="#333" stroke-width="0.8" />
<line x1="88.06" y1="591.90" x2="88.06" y2="595.10" stroke="#333" stroke-width="0.8" />
<line x1="89.40" y1="591.90" x2="89.40" y2="595.10" stroke="#333" stroke-width="0.8" />
<line x1="90.56" y1="591.90" x2="90.56" y2="595.10" stroke="#333" stroke-width="0.8" />
<line x1="91.58" y1="591.90" x2="91.58" y2="595.10" stroke="#333" stroke-width="0.8" />
<line x1="92.50" y1="591.90" x2="92.50" y2="596.90" stroke="#111" stroke-width="1.3" />
<line x1="98.52" y1="591.90" x2="98.52" y2="595.10" stroke="#333" stroke-width="0.8" />
<line x1="102.04" y1="591.90" x2="102.04" y2="595.10" stroke="#333" stroke-width="0.8" />
<line x1="104.54" y1="591.90" x2="104.54" y2="595.10" stroke="#333" stroke-width="0.8" />
<line x1="106.48" y1="591.90" x2="106.48" y2="595.10" stroke="#333" stroke-width="0.8" />
<line x1="108.06" y1="591.90" x2="108.06" y2="595.10" stroke="#333" stroke-width="0.8" />
<line x1="109.40" y1="591.90" x2="109.40" y2="595.10" stroke="#333" stroke-width="0.8" />
<line x1="110.56" y1="591.90" x2="110.56" y2="595.10" stroke="#333" stroke-width="0.8" />
<line x1="111.58" y1="591.90" x2="111.58" y2="595.10" stroke="#333" stroke-width="0.8" />
<line x1="112.50" y1="591.90" x2="112.50" y2="596.90" stroke="#111" stroke-width="1.3" />
<line x1="118.52" y1="591.90" x2="118.52" y2="595.10" stroke="#333" stroke-width="0.8" />
<line x1="122.04" y1="591.90" x2="122.04" y2="595.10" stroke="#333" stroke-width="0.8" />
<line x1="124.54" y1="591.90" x2="124.54" y2="595.10" stroke="#333" stroke-width="0.8" />
<line x1="126.48" y1="591.90" x2="126.48" y2="595.10" stroke="#333" stroke-width="0.8" />
<line x1="128.06" y1="591.90" x2="128.06" y2="595.10" stroke="#333" stroke-width="0.8" />
<line x1="129.40" y1="591.90" x2="129.40" y2="595.10" stroke="#333" stroke-width="0.8" />
<line x1="130.56" y1="591.90" x2="130.56" y2="595.10" stroke="#333" stroke-width="0.8" />
<line x1="131.58" y1="591.90" x2="131.58" y2="595.10" stroke="#333" stroke-width="0.8" />
<line x1="132.50" y1="591.90" x2="132.50" y2="596.90" stroke="#111" stroke-width="1.3" />
<path d="M53.0 591.9L53.0 590.2L54.0 590.2L55.0 590.3L56.0 590.3L57.0 589.3L58.0 589.0L58.9 588.9L59.7 589.3L60.6 588.0L61.4 588.5L62.3 587.9L63.1 586.7L64.0 587.1L64.9 586.6L65.7 586.2L66.6 586.9L67.4 584.9L68.3 584.3L69.1 585.7L70.0 584.3L70.9 583.5L71.7 583.2L72.6 582.6L73.4 583.2L74.3 580.8L75.1 580.3L76.0 580.7L77.0 580.1L78.0 580.6L79.0 579.7L80.0 577.9L81.0 577.2L82.0 578.7L83.0 579.0L84.0 576.2L85.0 578.2L86.0 578.5L87.0 578.0L88.0 576.9L89.0 578.6L90.0 578.6L90.9 577.4L91.7 578.9L92.6 578.2L93.4 578.2L94.3 579.4L95.1 579.8L96.0 580.2L97.0 581.4L98.0 582.4L99.0 583.4L100.0 584.1L101.0 584.5L102.0 584.5L103.0 584.0L104.0 584.2L105.0 585.2L106.0 585.0L107.0 584.9L108.0 583.2L109.2 581.7L110.5 581.0L111.4 576.0L112.3 570.7L113.0 559.0L113.8 549.6L114.7 539.2L115.5 525.6L116.5 514.4L117.5 502.6L118.5 511.7L119.6 525.2L120.3 535.8L121.0 549.2L121.7 558.2L122.3 565.5L123.0 572.8L123.8 581.2L124.7 582.9L125.5 586.0L126.5 587.4L127.5 589.1L128.5 590.0L129.4 589.8L130.4 590.1L131.4 590.7L132.3 590.2L132.3 591.9Z" fill="#050505" stroke="#050505" stroke-width="0.5" stroke-linejoin="round"/>
<text x="56.30" y="522.80" font-size="22.3">69%</text>
<line x1="104.50" y1="542.00" x2="130.80" y2="542.00" stroke="#000" stroke-width="2.0" />
<line x1="104.50" y1="533.80" x2="104.50" y2="550.50" stroke="#000" stroke-width="2.0" />
<line x1="130.80" y1="533.80" x2="130.80" y2="550.50" stroke="#000" stroke-width="2.0" />
<text x="39.40" y="548.70" font-size="7.6" font-weight="bold" text-anchor="middle" transform="rotate(-90 39.40 548.70)" textLength="34.00" lengthAdjust="spacingAndGlyphs" fill="#4a4a4a">Counts</text>
<text x="48.90" y="503.00" font-size="7.4" text-anchor="middle" transform="rotate(-90 48.90 503.00)" textLength="14.50" lengthAdjust="spacingAndGlyphs" fill="#3a3a3a">200</text>
<text x="48.90" y="591.10" font-size="8" font-weight="bold" text-anchor="middle" transform="rotate(-90 48.90 591.10)" fill="#222">0</text>
<text x="49.80" y="608.70" font-size="11.2" textLength="5.70" lengthAdjust="spacingAndGlyphs" fill="#111" stroke="#111" stroke-width="0.45">10</text>
<text x="55.90" y="603.70" font-size="9.8" textLength="4.00" lengthAdjust="spacingAndGlyphs" fill="#111" stroke="#111" stroke-width="0.4">0</text>
<text x="69.25" y="608.70" font-size="11.2" textLength="5.70" lengthAdjust="spacingAndGlyphs" fill="#111" stroke="#111" stroke-width="0.45">10</text>
<text x="75.35" y="603.70" font-size="9.8" textLength="4.00" lengthAdjust="spacingAndGlyphs" fill="#111" stroke="#111" stroke-width="0.4">1</text>
<text x="88.70" y="608.70" font-size="11.2" textLength="5.70" lengthAdjust="spacingAndGlyphs" fill="#111" stroke="#111" stroke-width="0.45">10</text>
<text x="94.80" y="603.70" font-size="9.8" textLength="4.00" lengthAdjust="spacingAndGlyphs" fill="#111" stroke="#111" stroke-width="0.4">2</text>
<text x="108.15" y="608.70" font-size="11.2" textLength="5.70" lengthAdjust="spacingAndGlyphs" fill="#111" stroke="#111" stroke-width="0.45">10</text>
<text x="114.25" y="603.70" font-size="9.8" textLength="4.00" lengthAdjust="spacingAndGlyphs" fill="#111" stroke="#111" stroke-width="0.4">3</text>
<text x="127.60" y="608.70" font-size="11.2" textLength="5.70" lengthAdjust="spacingAndGlyphs" fill="#111" stroke="#111" stroke-width="0.45">10</text>
<text x="133.70" y="603.70" font-size="9.8" textLength="4.00" lengthAdjust="spacingAndGlyphs" fill="#111" stroke="#111" stroke-width="0.4">4</text>
<text x="92.10" y="620.20" font-size="10" font-weight="bold" text-anchor="middle" textLength="17.60" lengthAdjust="spacingAndGlyphs" fill="#222">FL1-H</text>
<line x1="159.50" y1="502.00" x2="240.00" y2="502.00" stroke="#3c3c3c" stroke-width="1.5" />
<line x1="239.50" y1="502.00" x2="239.50" y2="591.20" stroke="#9a9a9a" stroke-width="1.0" />
<line x1="160.20" y1="503.00" x2="160.20" y2="591.20" stroke="#888" stroke-width="0.5" />
<line x1="160.00" y1="503.00" x2="160.00" y2="591.20" stroke="#3a3a3a" stroke-width="2.0" stroke-dasharray="0.9 1.35"/>
<line x1="159.20" y1="591.50" x2="240.30" y2="591.50" stroke="#111" stroke-width="1.3" />
<line x1="160.00" y1="591.20" x2="160.00" y2="596.20" stroke="#111" stroke-width="1.3" />
<line x1="165.98" y1="591.20" x2="165.98" y2="594.40" stroke="#333" stroke-width="0.8" />
<line x1="169.48" y1="591.20" x2="169.48" y2="594.40" stroke="#333" stroke-width="0.8" />
<line x1="171.97" y1="591.20" x2="171.97" y2="594.40" stroke="#333" stroke-width="0.8" />
<line x1="173.89" y1="591.20" x2="173.89" y2="594.40" stroke="#333" stroke-width="0.8" />
<line x1="175.47" y1="591.20" x2="175.47" y2="594.40" stroke="#333" stroke-width="0.8" />
<line x1="176.80" y1="591.20" x2="176.80" y2="594.40" stroke="#333" stroke-width="0.8" />
<line x1="177.95" y1="591.20" x2="177.95" y2="594.40" stroke="#333" stroke-width="0.8" />
<line x1="178.97" y1="591.20" x2="178.97" y2="594.40" stroke="#333" stroke-width="0.8" />
<line x1="179.88" y1="591.20" x2="179.88" y2="596.20" stroke="#111" stroke-width="1.3" />
<line x1="185.86" y1="591.20" x2="185.86" y2="594.40" stroke="#333" stroke-width="0.8" />
<line x1="189.36" y1="591.20" x2="189.36" y2="594.40" stroke="#333" stroke-width="0.8" />
<line x1="191.84" y1="591.20" x2="191.84" y2="594.40" stroke="#333" stroke-width="0.8" />
<line x1="193.77" y1="591.20" x2="193.77" y2="594.40" stroke="#333" stroke-width="0.8" />
<line x1="195.34" y1="591.20" x2="195.34" y2="594.40" stroke="#333" stroke-width="0.8" />
<line x1="196.67" y1="591.20" x2="196.67" y2="594.40" stroke="#333" stroke-width="0.8" />
<line x1="197.82" y1="591.20" x2="197.82" y2="594.40" stroke="#333" stroke-width="0.8" />
<line x1="198.84" y1="591.20" x2="198.84" y2="594.40" stroke="#333" stroke-width="0.8" />
<line x1="199.75" y1="591.20" x2="199.75" y2="596.20" stroke="#111" stroke-width="1.3" />
<line x1="205.73" y1="591.20" x2="205.73" y2="594.40" stroke="#333" stroke-width="0.8" />
<line x1="209.23" y1="591.20" x2="209.23" y2="594.40" stroke="#333" stroke-width="0.8" />
<line x1="211.72" y1="591.20" x2="211.72" y2="594.40" stroke="#333" stroke-width="0.8" />
<line x1="213.64" y1="591.20" x2="213.64" y2="594.40" stroke="#333" stroke-width="0.8" />
<line x1="215.22" y1="591.20" x2="215.22" y2="594.40" stroke="#333" stroke-width="0.8" />
<line x1="216.55" y1="591.20" x2="216.55" y2="594.40" stroke="#333" stroke-width="0.8" />
<line x1="217.70" y1="591.20" x2="217.70" y2="594.40" stroke="#333" stroke-width="0.8" />
<line x1="218.72" y1="591.20" x2="218.72" y2="594.40" stroke="#333" stroke-width="0.8" />
<line x1="219.62" y1="591.20" x2="219.62" y2="596.20" stroke="#111" stroke-width="1.3" />
<line x1="225.61" y1="591.20" x2="225.61" y2="594.40" stroke="#333" stroke-width="0.8" />
<line x1="229.11" y1="591.20" x2="229.11" y2="594.40" stroke="#333" stroke-width="0.8" />
<line x1="231.59" y1="591.20" x2="231.59" y2="594.40" stroke="#333" stroke-width="0.8" />
<line x1="233.52" y1="591.20" x2="233.52" y2="594.40" stroke="#333" stroke-width="0.8" />
<line x1="235.09" y1="591.20" x2="235.09" y2="594.40" stroke="#333" stroke-width="0.8" />
<line x1="236.42" y1="591.20" x2="236.42" y2="594.40" stroke="#333" stroke-width="0.8" />
<line x1="237.57" y1="591.20" x2="237.57" y2="594.40" stroke="#333" stroke-width="0.8" />
<line x1="238.59" y1="591.20" x2="238.59" y2="594.40" stroke="#333" stroke-width="0.8" />
<line x1="239.50" y1="591.20" x2="239.50" y2="596.20" stroke="#111" stroke-width="1.3" />
<path d="M160.5 591.2L160.5 589.8L161.6 589.6L162.7 589.0L163.8 589.0L164.9 587.0L165.9 585.2L167.0 582.2L168.0 581.4L169.0 580.2L170.0 577.6L170.9 577.1L171.8 574.7L172.6 570.7L173.5 567.7L174.5 569.2L175.5 565.2L176.5 563.4L177.5 565.4L178.4 565.4L179.3 564.8L180.2 564.8L181.1 561.4L182.0 560.8L183.0 561.2L184.0 565.1L185.0 562.2L186.0 562.6L186.9 562.0L187.8 561.8L188.7 561.5L189.5 562.5L190.4 561.6L191.3 562.2L192.4 565.9L193.4 564.8L194.5 569.2L195.5 571.0L196.5 573.1L197.5 575.2L198.4 577.1L199.2 578.1L200.1 578.7L201.0 580.1L202.0 581.0L203.0 582.7L204.0 585.0L205.0 584.9L206.0 584.8L207.0 586.2L208.0 587.3L209.0 587.2L210.0 587.8L211.0 586.6L212.0 586.0L213.0 586.1L214.0 584.2L214.9 583.3L215.8 581.5L216.6 578.9L217.5 576.8L218.5 574.0L219.5 573.7L220.5 570.7L221.5 570.0L222.5 567.5L223.5 570.4L224.5 572.3L225.5 575.7L226.5 580.1L227.7 584.1L228.8 587.1L229.9 588.1L230.9 589.1L231.9 588.8L233.0 589.9L233.9 589.7L234.7 589.9L235.6 590.3L236.4 590.2L237.3 589.7L238.1 589.9L239.0 589.7L239.0 591.2Z" fill="#050505" stroke="#050505" stroke-width="0.5" stroke-linejoin="round"/>
<text x="166.30" y="522.80" font-size="22.3">20%</text>
<line x1="210.50" y1="542.00" x2="238.00" y2="542.00" stroke="#000" stroke-width="2.0" />
<line x1="210.50" y1="533.80" x2="210.50" y2="550.50" stroke="#000" stroke-width="2.0" />
<line x1="238.00" y1="533.80" x2="238.00" y2="550.50" stroke="#000" stroke-width="2.0" />
<text x="146.20" y="548.10" font-size="7.6" font-weight="bold" text-anchor="middle" transform="rotate(-90 146.20 548.10)" textLength="34.00" lengthAdjust="spacingAndGlyphs" fill="#4a4a4a">Counts</text>
<text x="156.40" y="502.50" font-size="7.4" text-anchor="middle" transform="rotate(-90 156.40 502.50)" textLength="14.50" lengthAdjust="spacingAndGlyphs" fill="#3a3a3a">200</text>
<text x="156.40" y="590.40" font-size="8" font-weight="bold" text-anchor="middle" transform="rotate(-90 156.40 590.40)" fill="#222">0</text>
<text x="157.30" y="608.00" font-size="11.2" textLength="5.70" lengthAdjust="spacingAndGlyphs" fill="#111" stroke="#111" stroke-width="0.45">10</text>
<text x="163.40" y="603.00" font-size="9.8" textLength="4.00" lengthAdjust="spacingAndGlyphs" fill="#111" stroke="#111" stroke-width="0.4">0</text>
<text x="176.62" y="608.00" font-size="11.2" textLength="5.70" lengthAdjust="spacingAndGlyphs" fill="#111" stroke="#111" stroke-width="0.45">10</text>
<text x="182.72" y="603.00" font-size="9.8" textLength="4.00" lengthAdjust="spacingAndGlyphs" fill="#111" stroke="#111" stroke-width="0.4">1</text>
<text x="195.95" y="608.00" font-size="11.2" textLength="5.70" lengthAdjust="spacingAndGlyphs" fill="#111" stroke="#111" stroke-width="0.45">10</text>
<text x="202.05" y="603.00" font-size="9.8" textLength="4.00" lengthAdjust="spacingAndGlyphs" fill="#111" stroke="#111" stroke-width="0.4">2</text>
<text x="215.28" y="608.00" font-size="11.2" textLength="5.70" lengthAdjust="spacingAndGlyphs" fill="#111" stroke="#111" stroke-width="0.45">10</text>
<text x="221.38" y="603.00" font-size="9.8" textLength="4.00" lengthAdjust="spacingAndGlyphs" fill="#111" stroke="#111" stroke-width="0.4">3</text>
<text x="234.60" y="608.00" font-size="11.2" textLength="5.70" lengthAdjust="spacingAndGlyphs" fill="#111" stroke="#111" stroke-width="0.45">10</text>
<text x="240.70" y="603.00" font-size="9.8" textLength="4.00" lengthAdjust="spacingAndGlyphs" fill="#111" stroke="#111" stroke-width="0.4">4</text>
<text x="199.35" y="619.50" font-size="10" font-weight="bold" text-anchor="middle" textLength="17.60" lengthAdjust="spacingAndGlyphs" fill="#222">FL1-H</text>
<line x1="271.50" y1="502.00" x2="353.00" y2="502.00" stroke="#3c3c3c" stroke-width="1.5" />
<line x1="352.50" y1="502.00" x2="352.50" y2="591.20" stroke="#9a9a9a" stroke-width="1.0" />
<line x1="272.20" y1="503.00" x2="272.20" y2="591.20" stroke="#888" stroke-width="0.5" />
<line x1="272.00" y1="503.00" x2="272.00" y2="591.20" stroke="#3a3a3a" stroke-width="2.0" stroke-dasharray="0.9 1.35"/>
<line x1="271.20" y1="591.50" x2="353.30" y2="591.50" stroke="#111" stroke-width="1.3" />
<line x1="272.00" y1="591.20" x2="272.00" y2="596.20" stroke="#111" stroke-width="1.3" />
<line x1="278.06" y1="591.20" x2="278.06" y2="594.40" stroke="#333" stroke-width="0.8" />
<line x1="281.60" y1="591.20" x2="281.60" y2="594.40" stroke="#333" stroke-width="0.8" />
<line x1="284.12" y1="591.20" x2="284.12" y2="594.40" stroke="#333" stroke-width="0.8" />
<line x1="286.07" y1="591.20" x2="286.07" y2="594.40" stroke="#333" stroke-width="0.8" />
<line x1="287.66" y1="591.20" x2="287.66" y2="594.40" stroke="#333" stroke-width="0.8" />
<line x1="289.01" y1="591.20" x2="289.01" y2="594.40" stroke="#333" stroke-width="0.8" />
<line x1="290.17" y1="591.20" x2="290.17" y2="594.40" stroke="#333" stroke-width="0.8" />
<line x1="291.20" y1="591.20" x2="291.20" y2="594.40" stroke="#333" stroke-width="0.8" />
<line x1="292.12" y1="591.20" x2="292.12" y2="596.20" stroke="#111" stroke-width="1.3" />
<line x1="298.18" y1="591.20" x2="298.18" y2="594.40" stroke="#333" stroke-width="0.8" />
<line x1="301.73" y1="591.20" x2="301.73" y2="594.40" stroke="#333" stroke-width="0.8" />
<line x1="304.24" y1="591.20" x2="304.24" y2="594.40" stroke="#333" stroke-width="0.8" />
<line x1="306.19" y1="591.20" x2="306.19" y2="594.40" stroke="#333" stroke-width="0.8" />
<line x1="307.79" y1="591.20" x2="307.79" y2="594.40" stroke="#333" stroke-width="0.8" />
<line x1="309.13" y1="591.20" x2="309.13" y2="594.40" stroke="#333" stroke-width="0.8" />
<line x1="310.30" y1="591.20" x2="310.30" y2="594.40" stroke="#333" stroke-width="0.8" />
<line x1="311.33" y1="591.20" x2="311.33" y2="594.40" stroke="#333" stroke-width="0.8" />
<line x1="312.25" y1="591.20" x2="312.25" y2="596.20" stroke="#111" stroke-width="1.3" />
<line x1="318.31" y1="591.20" x2="318.31" y2="594.40" stroke="#333" stroke-width="0.8" />
<line x1="321.85" y1="591.20" x2="321.85" y2="594.40" stroke="#333" stroke-width="0.8" />
<line x1="324.37" y1="591.20" x2="324.37" y2="594.40" stroke="#333" stroke-width="0.8" />
<line x1="326.32" y1="591.20" x2="326.32" y2="594.40" stroke="#333" stroke-width="0.8" />
<line x1="327.91" y1="591.20" x2="327.91" y2="594.40" stroke="#333" stroke-width="0.8" />
<line x1="329.26" y1="591.20" x2="329.26" y2="594.40" stroke="#333" stroke-width="0.8" />
<line x1="330.42" y1="591.20" x2="330.42" y2="594.40" stroke="#333" stroke-width="0.8" />
<line x1="331.45" y1="591.20" x2="331.45" y2="594.40" stroke="#333" stroke-width="0.8" />
<line x1="332.38" y1="591.20" x2="332.38" y2="596.20" stroke="#111" stroke-width="1.3" />
<line x1="338.43" y1="591.20" x2="338.43" y2="594.40" stroke="#333" stroke-width="0.8" />
<line x1="341.98" y1="591.20" x2="341.98" y2="594.40" stroke="#333" stroke-width="0.8" />
<line x1="344.49" y1="591.20" x2="344.49" y2="594.40" stroke="#333" stroke-width="0.8" />
<line x1="346.44" y1="591.20" x2="346.44" y2="594.40" stroke="#333" stroke-width="0.8" />
<line x1="348.04" y1="591.20" x2="348.04" y2="594.40" stroke="#333" stroke-width="0.8" />
<line x1="349.38" y1="591.20" x2="349.38" y2="594.40" stroke="#333" stroke-width="0.8" />
<line x1="350.55" y1="591.20" x2="350.55" y2="594.40" stroke="#333" stroke-width="0.8" />
<line x1="351.58" y1="591.20" x2="351.58" y2="594.40" stroke="#333" stroke-width="0.8" />
<line x1="352.50" y1="591.20" x2="352.50" y2="596.20" stroke="#111" stroke-width="1.3" />
<path d="M272.5 591.2L272.5 590.4L273.4 590.4L274.4 590.5L275.3 589.7L276.2 590.0L277.1 590.1L278.1 590.0L279.0 588.9L279.9 589.3L280.7 589.0L281.6 588.6L282.4 588.9L283.3 588.0L284.1 587.6L285.0 588.2L286.0 587.5L287.0 586.6L288.0 586.3L289.0 586.3L290.0 585.3L290.9 585.9L291.7 585.7L292.6 584.7L293.4 585.0L294.3 584.7L295.1 583.5L296.0 583.4L297.0 581.6L298.0 580.6L299.0 581.9L300.0 579.5L301.0 578.8L301.9 580.1L302.8 579.3L303.6 577.3L304.5 577.4L305.4 576.9L306.3 576.9L307.2 576.3L308.2 578.1L309.1 578.1L310.1 578.8L311.0 578.7L312.0 579.0L313.0 579.4L314.0 581.9L315.0 582.1L316.0 582.1L317.0 581.7L318.0 582.4L319.0 582.8L320.0 583.4L320.9 582.8L321.8 582.7L322.6 582.0L323.5 581.3L324.4 581.2L325.4 579.1L326.3 577.4L327.1 572.9L328.0 568.1L328.8 560.6L329.5 549.2L330.2 538.2L331.0 529.9L332.0 519.9L333.0 514.9L333.9 517.8L334.8 529.5L335.8 535.6L336.8 547.7L337.7 556.8L338.6 565.3L339.4 574.8L340.2 580.5L340.9 582.5L341.6 585.5L342.4 587.5L343.2 588.2L344.1 588.6L345.1 589.6L346.1 590.1L347.0 590.0L347.9 590.0L348.8 590.2L349.6 590.0L350.5 590.8L351.4 591.0L352.3 590.5L352.3 591.2Z" fill="#050505" stroke="#050505" stroke-width="0.5" stroke-linejoin="round"/>
<text x="277.60" y="522.80" font-size="22.3">70%</text>
<line x1="324.50" y1="541.30" x2="352.00" y2="541.30" stroke="#000" stroke-width="2.0" />
<line x1="324.50" y1="533.00" x2="324.50" y2="550.00" stroke="#000" stroke-width="2.0" />
<line x1="352.00" y1="533.00" x2="352.00" y2="550.00" stroke="#000" stroke-width="2.0" />
<text x="257.80" y="548.10" font-size="7.6" font-weight="bold" text-anchor="middle" transform="rotate(-90 257.80 548.10)" textLength="34.00" lengthAdjust="spacingAndGlyphs" fill="#4a4a4a">Counts</text>
<text x="268.40" y="502.50" font-size="7.4" text-anchor="middle" transform="rotate(-90 268.40 502.50)" textLength="14.50" lengthAdjust="spacingAndGlyphs" fill="#3a3a3a">200</text>
<text x="268.40" y="590.40" font-size="8" font-weight="bold" text-anchor="middle" transform="rotate(-90 268.40 590.40)" fill="#222">0</text>
<text x="269.30" y="608.00" font-size="11.2" textLength="5.70" lengthAdjust="spacingAndGlyphs" fill="#111" stroke="#111" stroke-width="0.45">10</text>
<text x="275.40" y="603.00" font-size="9.8" textLength="4.00" lengthAdjust="spacingAndGlyphs" fill="#111" stroke="#111" stroke-width="0.4">0</text>
<text x="288.88" y="608.00" font-size="11.2" textLength="5.70" lengthAdjust="spacingAndGlyphs" fill="#111" stroke="#111" stroke-width="0.45">10</text>
<text x="294.97" y="603.00" font-size="9.8" textLength="4.00" lengthAdjust="spacingAndGlyphs" fill="#111" stroke="#111" stroke-width="0.4">1</text>
<text x="308.45" y="608.00" font-size="11.2" textLength="5.70" lengthAdjust="spacingAndGlyphs" fill="#111" stroke="#111" stroke-width="0.45">10</text>
<text x="314.55" y="603.00" font-size="9.8" textLength="4.00" lengthAdjust="spacingAndGlyphs" fill="#111" stroke="#111" stroke-width="0.4">2</text>
<text x="328.03" y="608.00" font-size="11.2" textLength="5.70" lengthAdjust="spacingAndGlyphs" fill="#111" stroke="#111" stroke-width="0.45">10</text>
<text x="334.12" y="603.00" font-size="9.8" textLength="4.00" lengthAdjust="spacingAndGlyphs" fill="#111" stroke="#111" stroke-width="0.4">3</text>
<text x="347.60" y="608.00" font-size="11.2" textLength="5.70" lengthAdjust="spacingAndGlyphs" fill="#111" stroke="#111" stroke-width="0.45">10</text>
<text x="353.70" y="603.00" font-size="9.8" textLength="4.00" lengthAdjust="spacingAndGlyphs" fill="#111" stroke="#111" stroke-width="0.4">4</text>
<text x="311.85" y="619.50" font-size="10" font-weight="bold" text-anchor="middle" textLength="17.60" lengthAdjust="spacingAndGlyphs" fill="#222">FL1-H</text>
<line x1="327.80" y1="570.00" x2="337.80" y2="577.20" stroke="#e8e8e8" stroke-width="0.45" />
<line x1="381.50" y1="501.50" x2="462.80" y2="501.50" stroke="#3c3c3c" stroke-width="1.5" />
<line x1="462.30" y1="501.50" x2="462.30" y2="591.20" stroke="#9a9a9a" stroke-width="1.0" />
<line x1="382.20" y1="502.50" x2="382.20" y2="591.20" stroke="#888" stroke-width="0.5" />
<line x1="382.00" y1="502.50" x2="382.00" y2="591.20" stroke="#3a3a3a" stroke-width="2.0" stroke-dasharray="0.9 1.35"/>
<line x1="381.20" y1="591.50" x2="463.10" y2="591.50" stroke="#111" stroke-width="1.3" />
<line x1="382.00" y1="591.20" x2="382.00" y2="596.20" stroke="#111" stroke-width="1.3" />
<line x1="388.04" y1="591.20" x2="388.04" y2="594.40" stroke="#333" stroke-width="0.8" />
<line x1="391.58" y1="591.20" x2="391.58" y2="594.40" stroke="#333" stroke-width="0.8" />
<line x1="394.09" y1="591.20" x2="394.09" y2="594.40" stroke="#333" stroke-width="0.8" />
<line x1="396.03" y1="591.20" x2="396.03" y2="594.40" stroke="#333" stroke-width="0.8" />
<line x1="397.62" y1="591.20" x2="397.62" y2="594.40" stroke="#333" stroke-width="0.8" />
<line x1="398.97" y1="591.20" x2="398.97" y2="594.40" stroke="#333" stroke-width="0.8" />
<line x1="400.13" y1="591.20" x2="400.13" y2="594.40" stroke="#333" stroke-width="0.8" />
<line x1="401.16" y1="591.20" x2="401.16" y2="594.40" stroke="#333" stroke-width="0.8" />
<line x1="402.07" y1="591.20" x2="402.07" y2="596.20" stroke="#111" stroke-width="1.3" />
<line x1="408.12" y1="591.20" x2="408.12" y2="594.40" stroke="#333" stroke-width="0.8" />
<line x1="411.65" y1="591.20" x2="411.65" y2="594.40" stroke="#333" stroke-width="0.8" />
<line x1="414.16" y1="591.20" x2="414.16" y2="594.40" stroke="#333" stroke-width="0.8" />
<line x1="416.11" y1="591.20" x2="416.11" y2="594.40" stroke="#333" stroke-width="0.8" />
<line x1="417.70" y1="591.20" x2="417.70" y2="594.40" stroke="#333" stroke-width="0.8" />
<line x1="419.04" y1="591.20" x2="419.04" y2="594.40" stroke="#333" stroke-width="0.8" />
<line x1="420.20" y1="591.20" x2="420.20" y2="594.40" stroke="#333" stroke-width="0.8" />
<line x1="421.23" y1="591.20" x2="421.23" y2="594.40" stroke="#333" stroke-width="0.8" />
<line x1="422.15" y1="591.20" x2="422.15" y2="596.20" stroke="#111" stroke-width="1.3" />
<line x1="428.19" y1="591.20" x2="428.19" y2="594.40" stroke="#333" stroke-width="0.8" />
<line x1="431.73" y1="591.20" x2="431.73" y2="594.40" stroke="#333" stroke-width="0.8" />
<line x1="434.24" y1="591.20" x2="434.24" y2="594.40" stroke="#333" stroke-width="0.8" />
<line x1="436.18" y1="591.20" x2="436.18" y2="594.40" stroke="#333" stroke-width="0.8" />
<line x1="437.77" y1="591.20" x2="437.77" y2="594.40" stroke="#333" stroke-width="0.8" />
<line x1="439.12" y1="591.20" x2="439.12" y2="594.40" stroke="#333" stroke-width="0.8" />
<line x1="440.28" y1="591.20" x2="440.28" y2="594.40" stroke="#333" stroke-width="0.8" />
<line x1="441.31" y1="591.20" x2="441.31" y2="594.40" stroke="#333" stroke-width="0.8" />
<line x1="442.23" y1="591.20" x2="442.23" y2="596.20" stroke="#111" stroke-width="1.3" />
<line x1="448.27" y1="591.20" x2="448.27" y2="594.40" stroke="#333" stroke-width="0.8" />
<line x1="451.80" y1="591.20" x2="451.80" y2="594.40" stroke="#333" stroke-width="0.8" />
<line x1="454.31" y1="591.20" x2="454.31" y2="594.40" stroke="#333" stroke-width="0.8" />
<line x1="456.26" y1="591.20" x2="456.26" y2="594.40" stroke="#333" stroke-width="0.8" />
<line x1="457.85" y1="591.20" x2="457.85" y2="594.40" stroke="#333" stroke-width="0.8" />
<line x1="459.19" y1="591.20" x2="459.19" y2="594.40" stroke="#333" stroke-width="0.8" />
<line x1="460.35" y1="591.20" x2="460.35" y2="594.40" stroke="#333" stroke-width="0.8" />
<line x1="461.38" y1="591.20" x2="461.38" y2="594.40" stroke="#333" stroke-width="0.8" />
<line x1="462.30" y1="591.20" x2="462.30" y2="596.20" stroke="#111" stroke-width="1.3" />
<path d="M382.5 591.2L382.5 590.3L383.4 590.3L384.3 590.4L385.2 590.2L386.1 590.0L387.0 589.1L388.0 589.6L389.0 588.6L390.0 588.0L391.0 587.3L392.0 587.5L393.0 586.6L394.0 586.2L395.0 586.2L396.0 585.9L397.0 585.5L397.9 583.8L398.9 583.3L399.8 583.1L400.7 583.1L401.7 583.1L402.6 582.5L403.5 582.1L404.4 580.3L405.3 579.4L406.2 577.3L407.1 576.3L408.0 575.2L409.0 575.1L410.0 574.0L411.0 572.5L412.0 570.6L413.0 569.7L413.9 568.4L414.8 569.7L415.8 567.9L416.7 567.8L417.6 567.5L418.5 565.1L419.4 564.6L420.3 565.8L421.2 569.0L422.1 569.4L423.0 568.6L424.0 571.2L425.0 571.4L426.0 574.8L427.0 573.8L428.1 576.9L429.1 579.0L430.1 579.0L431.2 580.1L432.1 580.2L433.1 581.5L434.1 582.3L435.0 583.1L436.1 583.4L437.1 584.6L438.2 584.3L439.4 583.0L440.5 579.8L441.4 574.9L442.3 572.3L443.1 563.2L444.0 557.1L445.0 552.7L446.0 547.0L446.9 545.1L447.7 542.4L448.4 546.7L449.2 548.2L449.9 558.3L450.5 564.3L451.1 570.7L451.8 577.7L452.6 581.4L453.5 583.7L454.8 586.5L456.0 588.7L456.9 589.9L457.7 589.7L458.6 589.5L459.4 590.0L460.3 589.6L461.1 589.9L462.0 590.3L462.0 591.2Z" fill="#050505" stroke="#050505" stroke-width="0.5" stroke-linejoin="round"/>
<text x="385.50" y="522.80" font-size="22.3">45%</text>
<line x1="434.30" y1="541.50" x2="462.00" y2="541.50" stroke="#000" stroke-width="2.0" />
<line x1="434.30" y1="532.60" x2="434.30" y2="550.00" stroke="#000" stroke-width="2.0" />
<line x1="462.00" y1="532.60" x2="462.00" y2="550.00" stroke="#000" stroke-width="2.0" />
<text x="369.00" y="547.85" font-size="7.6" font-weight="bold" text-anchor="middle" transform="rotate(-90 369.00 547.85)" textLength="34.00" lengthAdjust="spacingAndGlyphs" fill="#4a4a4a">Counts</text>
<text x="378.40" y="502.00" font-size="7.4" text-anchor="middle" transform="rotate(-90 378.40 502.00)" textLength="14.50" lengthAdjust="spacingAndGlyphs" fill="#3a3a3a">200</text>
<text x="378.40" y="590.40" font-size="8" font-weight="bold" text-anchor="middle" transform="rotate(-90 378.40 590.40)" fill="#222">0</text>
<text x="379.30" y="608.00" font-size="11.2" textLength="5.70" lengthAdjust="spacingAndGlyphs" fill="#111" stroke="#111" stroke-width="0.45">10</text>
<text x="385.40" y="603.00" font-size="9.8" textLength="4.00" lengthAdjust="spacingAndGlyphs" fill="#111" stroke="#111" stroke-width="0.4">0</text>
<text x="398.82" y="608.00" font-size="11.2" textLength="5.70" lengthAdjust="spacingAndGlyphs" fill="#111" stroke="#111" stroke-width="0.45">10</text>
<text x="404.92" y="603.00" font-size="9.8" textLength="4.00" lengthAdjust="spacingAndGlyphs" fill="#111" stroke="#111" stroke-width="0.4">1</text>
<text x="418.35" y="608.00" font-size="11.2" textLength="5.70" lengthAdjust="spacingAndGlyphs" fill="#111" stroke="#111" stroke-width="0.45">10</text>
<text x="424.45" y="603.00" font-size="9.8" textLength="4.00" lengthAdjust="spacingAndGlyphs" fill="#111" stroke="#111" stroke-width="0.4">2</text>
<text x="437.88" y="608.00" font-size="11.2" textLength="5.70" lengthAdjust="spacingAndGlyphs" fill="#111" stroke="#111" stroke-width="0.45">10</text>
<text x="443.98" y="603.00" font-size="9.8" textLength="4.00" lengthAdjust="spacingAndGlyphs" fill="#111" stroke="#111" stroke-width="0.4">3</text>
<text x="457.40" y="608.00" font-size="11.2" textLength="5.70" lengthAdjust="spacingAndGlyphs" fill="#111" stroke="#111" stroke-width="0.45">10</text>
<text x="463.50" y="603.00" font-size="9.8" textLength="4.00" lengthAdjust="spacingAndGlyphs" fill="#111" stroke="#111" stroke-width="0.4">4</text>
<text x="421.75" y="619.50" font-size="10" font-weight="bold" text-anchor="middle" textLength="17.60" lengthAdjust="spacingAndGlyphs" fill="#222">FL1-H</text>
</g>
</g>
<g id="panelC">
<text x="0.00" y="668.70" font-size="24.5" font-weight="bold">C</text>
<line x1="136.30" y1="663.80" x2="136.30" y2="820.00" stroke="#000" stroke-width="1.6" />
<line x1="135.50" y1="819.70" x2="431.30" y2="819.70" stroke="#000" stroke-width="2.0" />
<line x1="132.50" y1="819.00" x2="136.30" y2="819.00" stroke="#000" stroke-width="1.3" />
<text x="131.60" y="822.30" font-size="9.5" font-weight="bold" text-anchor="end" textLength="5.80" lengthAdjust="spacingAndGlyphs">0</text>
<line x1="132.50" y1="803.55" x2="136.30" y2="803.55" stroke="#000" stroke-width="1.3" />
<text x="131.60" y="806.85" font-size="9.5" font-weight="bold" text-anchor="end" textLength="11.60" lengthAdjust="spacingAndGlyphs">10</text>
<line x1="132.50" y1="788.10" x2="136.30" y2="788.10" stroke="#000" stroke-width="1.3" />
<text x="131.60" y="791.40" font-size="9.5" font-weight="bold" text-anchor="end" textLength="11.60" lengthAdjust="spacingAndGlyphs">20</text>
<line x1="132.50" y1="772.65" x2="136.30" y2="772.65" stroke="#000" stroke-width="1.3" />
<text x="131.60" y="775.95" font-size="9.5" font-weight="bold" text-anchor="end" textLength="11.60" lengthAdjust="spacingAndGlyphs">30</text>
<line x1="132.50" y1="757.20" x2="136.30" y2="757.20" stroke="#000" stroke-width="1.3" />
<text x="131.60" y="760.50" font-size="9.5" font-weight="bold" text-anchor="end" textLength="11.60" lengthAdjust="spacingAndGlyphs">40</text>
<line x1="132.50" y1="741.75" x2="136.30" y2="741.75" stroke="#000" stroke-width="1.3" />
<text x="131.60" y="745.05" font-size="9.5" font-weight="bold" text-anchor="end" textLength="11.60" lengthAdjust="spacingAndGlyphs">50</text>
<line x1="132.50" y1="726.30" x2="136.30" y2="726.30" stroke="#000" stroke-width="1.3" />
<text x="131.60" y="729.60" font-size="9.5" font-weight="bold" text-anchor="end" textLength="11.60" lengthAdjust="spacingAndGlyphs">60</text>
<line x1="132.50" y1="710.85" x2="136.30" y2="710.85" stroke="#000" stroke-width="1.3" />
<text x="131.60" y="714.15" font-size="9.5" font-weight="bold" text-anchor="end" textLength="11.60" lengthAdjust="spacingAndGlyphs">70</text>
<line x1="132.50" y1="695.40" x2="136.30" y2="695.40" stroke="#000" stroke-width="1.3" />
<text x="131.60" y="698.70" font-size="9.5" font-weight="bold" text-anchor="end" textLength="11.60" lengthAdjust="spacingAndGlyphs">80</text>
<line x1="132.50" y1="679.95" x2="136.30" y2="679.95" stroke="#000" stroke-width="1.3" />
<text x="131.60" y="683.25" font-size="9.5" font-weight="bold" text-anchor="end" textLength="11.60" lengthAdjust="spacingAndGlyphs">90</text>
<line x1="132.50" y1="664.50" x2="136.30" y2="664.50" stroke="#000" stroke-width="1.3" />
<text x="131.60" y="667.80" font-size="9.5" font-weight="bold" text-anchor="end" textLength="17.40" lengthAdjust="spacingAndGlyphs">100</text>
<text x="87.00" y="739.00" font-size="11" font-weight="bold" text-anchor="middle" transform="rotate(-90 87.00 739.00)" textLength="100.00" lengthAdjust="spacingAndGlyphs">% of maximum <tspan font-size="7" dy="-3.4">3</tspan><tspan dy="3.4">H-</tspan></text>
<text x="101.00" y="739.50" font-size="11" font-weight="bold" text-anchor="middle" transform="rotate(-90 101.00 739.50)" textLength="127.00" lengthAdjust="spacingAndGlyphs">thymidine incorporation</text>
<rect x="144.40" y="802.00" width="11.30" height="17.50" fill="#000" />
<line x1="150.05" y1="797.50" x2="150.05" y2="802.50" stroke="#000" stroke-width="1.5" />
<line x1="146.75" y1="798.00" x2="153.35" y2="798.00" stroke="#000" stroke-width="1.4" />
<text x="150.85" y="834.60" font-size="9.0" font-weight="bold" text-anchor="end" transform="rotate(-45 150.85 834.60)">No Cytokine</text>
<rect x="171.03" y="693.00" width="11.30" height="126.50" fill="#000" />
<line x1="176.68" y1="673.00" x2="176.68" y2="693.50" stroke="#000" stroke-width="1.5" />
<line x1="173.38" y1="673.50" x2="179.98" y2="673.50" stroke="#000" stroke-width="1.4" />
<text x="177.48" y="834.60" font-size="9.0" font-weight="bold" text-anchor="end" transform="rotate(-45 177.48 834.60)">BAFF</text>
<rect x="197.66" y="810.80" width="11.30" height="8.70" fill="#000" />
<line x1="203.31" y1="808.00" x2="203.31" y2="811.30" stroke="#000" stroke-width="1.5" />
<line x1="200.01" y1="808.50" x2="206.61" y2="808.50" stroke="#000" stroke-width="1.4" />
<path d="M204.50 796.20L204.50 802.80M201.64 797.85L207.36 801.15M207.36 797.85L201.64 801.15" stroke="#4a4a4a" stroke-width="1.0" fill="none"/>
<text x="204.11" y="834.60" font-size="9.0" font-weight="bold" text-anchor="end" transform="rotate(-45 204.11 834.60)">BAFF + TACI-Fc</text>
<rect x="224.29" y="695.80" width="11.30" height="123.70" fill="#000" />
<line x1="229.94" y1="680.00" x2="229.94" y2="696.30" stroke="#000" stroke-width="1.5" />
<line x1="226.64" y1="680.50" x2="233.24" y2="680.50" stroke="#000" stroke-width="1.4" />
<text x="230.74" y="834.60" font-size="9.0" font-weight="bold" text-anchor="end" transform="rotate(-45 230.74 834.60)">BAFF + anti-IL-6 MoAb</text>
<rect x="250.92" y="707.00" width="11.30" height="112.50" fill="#000" />
<line x1="256.57" y1="692.50" x2="256.57" y2="707.50" stroke="#000" stroke-width="1.5" />
<line x1="253.27" y1="693.00" x2="259.87" y2="693.00" stroke="#000" stroke-width="1.4" />
<text x="257.37" y="834.60" font-size="9.0" font-weight="bold" text-anchor="end" transform="rotate(-45 257.37 834.60)">APRIL</text>
<rect x="277.55" y="807.00" width="11.30" height="12.50" fill="#000" />
<line x1="283.20" y1="805.50" x2="283.20" y2="807.50" stroke="#000" stroke-width="1.5" />
<line x1="279.90" y1="806.00" x2="286.50" y2="806.00" stroke="#000" stroke-width="1.4" />
<path d="M283.00 794.70L283.00 801.30M280.14 796.35L285.86 799.65M285.86 796.35L280.14 799.65" stroke="#4a4a4a" stroke-width="1.0" fill="none"/>
<text x="284.00" y="834.60" font-size="9.0" font-weight="bold" text-anchor="end" transform="rotate(-45 284.00 834.60)">APRIL + TACI-Fc</text>
<rect x="304.18" y="699.00" width="11.30" height="120.50" fill="#000" />
<line x1="309.83" y1="685.80" x2="309.83" y2="699.50" stroke="#000" stroke-width="1.5" />
<line x1="306.53" y1="686.30" x2="313.13" y2="686.30" stroke="#000" stroke-width="1.4" />
<text x="310.63" y="834.60" font-size="9.0" font-weight="bold" text-anchor="end" transform="rotate(-45 310.63 834.60)">APRIL + anti-IL-6 MoAb</text>
<rect x="330.81" y="803.00" width="11.30" height="16.50" fill="#000" />
<line x1="336.46" y1="798.80" x2="336.46" y2="803.50" stroke="#000" stroke-width="1.5" />
<line x1="333.16" y1="799.30" x2="339.76" y2="799.30" stroke="#000" stroke-width="1.4" />
<text x="337.26" y="834.60" font-size="9.0" font-weight="bold" text-anchor="end" transform="rotate(-45 337.26 834.60)">No Cytokine</text>
<rect x="357.44" y="665.60" width="11.30" height="153.90" fill="#000" />
<line x1="363.09" y1="664.30" x2="363.09" y2="666.10" stroke="#000" stroke-width="1.5" />
<text x="363.89" y="834.60" font-size="9.0" font-weight="bold" text-anchor="end" transform="rotate(-45 363.89 834.60)">IL-6</text>
<rect x="384.07" y="673.30" width="11.30" height="146.20" fill="#000" />
<line x1="389.72" y1="664.50" x2="389.72" y2="673.80" stroke="#000" stroke-width="1.5" />
<text x="390.52" y="834.60" font-size="9.0" font-weight="bold" text-anchor="end" transform="rotate(-45 390.52 834.60)">IL-6 + TACI-Fc</text>
<rect x="410.70" y="813.80" width="11.30" height="5.70" fill="#000" />
<line x1="416.35" y1="810.50" x2="416.35" y2="814.30" stroke="#000" stroke-width="1.5" />
<line x1="413.05" y1="811.00" x2="419.65" y2="811.00" stroke="#000" stroke-width="1.4" />
<path d="M416.30 798.00L416.30 804.60M413.44 799.65L419.16 802.95M419.16 799.65L413.44 802.95" stroke="#4a4a4a" stroke-width="1.0" fill="none"/>
<text x="417.15" y="834.60" font-size="9.0" font-weight="bold" text-anchor="end" transform="rotate(-45 417.15 834.60)">IL-6 + anti-IL-6 MoAb</text>
<line x1="163.37" y1="819.50" x2="163.37" y2="822.00" stroke="#000" stroke-width="1.0" />
<line x1="190.00" y1="819.50" x2="190.00" y2="822.00" stroke="#000" stroke-width="1.0" />
<line x1="216.62" y1="819.50" x2="216.62" y2="822.00" stroke="#000" stroke-width="1.0" />
<line x1="243.25" y1="819.50" x2="243.25" y2="822.00" stroke="#000" stroke-width="1.0" />
<line x1="269.88" y1="819.50" x2="269.88" y2="822.00" stroke="#000" stroke-width="1.0" />
<line x1="296.51" y1="819.50" x2="296.51" y2="822.00" stroke="#000" stroke-width="1.0" />
<line x1="323.14" y1="819.50" x2="323.14" y2="822.00" stroke="#000" stroke-width="1.0" />
<line x1="349.77" y1="819.50" x2="349.77" y2="822.00" stroke="#000" stroke-width="1.0" />
<line x1="376.40" y1="819.50" x2="376.40" y2="822.00" stroke="#000" stroke-width="1.0" />
<line x1="403.04" y1="819.50" x2="403.04" y2="822.00" stroke="#000" stroke-width="1.0" />
<line x1="429.67" y1="819.50" x2="429.67" y2="822.00" stroke="#000" stroke-width="1.0" />
</g>
<g id="panelD">
<text x="-0.40" y="951.20" font-size="24.5" font-weight="bold">D</text>
<line x1="61.60" y1="963.20" x2="61.60" y2="1060.80" stroke="#000" stroke-width="1.3" />
<line x1="61.00" y1="1060.20" x2="252.60" y2="1060.20" stroke="#000" stroke-width="1.3" />
<line x1="58.40" y1="1060.20" x2="61.60" y2="1060.20" stroke="#000" stroke-width="1.1" />
<text x="56.40" y="1063.00" font-size="8" font-weight="bold" text-anchor="end">0</text>
<line x1="58.40" y1="1036.08" x2="61.60" y2="1036.08" stroke="#000" stroke-width="1.1" />
<text x="37.00" y="1038.88" font-size="8" font-weight="bold" textLength="19.40" lengthAdjust="spacingAndGlyphs">1E+05</text>
<line x1="58.40" y1="1011.95" x2="61.60" y2="1011.95" stroke="#000" stroke-width="1.1" />
<text x="37.00" y="1014.75" font-size="8" font-weight="bold" textLength="19.40" lengthAdjust="spacingAndGlyphs">1E+06</text>
<line x1="58.40" y1="987.83" x2="61.60" y2="987.83" stroke="#000" stroke-width="1.1" />
<text x="37.00" y="990.62" font-size="8" font-weight="bold" textLength="19.40" lengthAdjust="spacingAndGlyphs">1E+07</text>
<line x1="58.40" y1="963.70" x2="61.60" y2="963.70" stroke="#000" stroke-width="1.1" />
<text x="37.00" y="966.50" font-size="8" font-weight="bold" textLength="19.40" lengthAdjust="spacingAndGlyphs">1E+08</text>
<line x1="61.60" y1="1060.20" x2="61.60" y2="1063.50" stroke="#000" stroke-width="1.1" />
<text x="61.60" y="1077.40" font-size="8" font-weight="bold" text-anchor="middle">0</text>
<line x1="99.80" y1="1060.20" x2="99.80" y2="1063.50" stroke="#000" stroke-width="1.1" />
<text x="99.80" y="1077.40" font-size="8" font-weight="bold" text-anchor="middle">5</text>
<line x1="138.00" y1="1060.20" x2="138.00" y2="1063.50" stroke="#000" stroke-width="1.1" />
<text x="138.00" y="1077.40" font-size="8" font-weight="bold" text-anchor="middle">10</text>
<line x1="176.20" y1="1060.20" x2="176.20" y2="1063.50" stroke="#000" stroke-width="1.1" />
<text x="176.20" y="1077.40" font-size="8" font-weight="bold" text-anchor="middle">15</text>
<line x1="214.40" y1="1060.20" x2="214.40" y2="1063.50" stroke="#000" stroke-width="1.1" />
<text x="214.40" y="1077.40" font-size="8" font-weight="bold" text-anchor="middle">20</text>
<line x1="252.60" y1="1060.20" x2="252.60" y2="1063.50" stroke="#000" stroke-width="1.1" />
<text x="252.60" y="1077.40" font-size="8" font-weight="bold" text-anchor="middle">25</text>
<text x="25.90" y="1012.00" font-size="11.6" text-anchor="middle" transform="rotate(-90 25.90 1012.00)" textLength="55.50" lengthAdjust="spacingAndGlyphs" stroke="#000" stroke-width="0.25">No of cells</text>
<text x="93.00" y="982.20" font-size="11" font-weight="bold" textLength="31.30" lengthAdjust="spacingAndGlyphs">XG-13</text>
<text x="111.00" y="1095.00" font-size="12.6" font-weight="bold" textLength="91.50" lengthAdjust="spacingAndGlyphs">Days of culturing</text>
<path d="M61.60 1023.80L84.52 1019.00L115.08 1018.00L138.00 1025.20L168.56 1035.00L191.48 1051.50L196.45 1060.00" fill="none" stroke="#000" stroke-width="1.1"/>
<path d="M61.60 1020.80L64.40 1023.80L61.60 1026.80L58.80 1023.80Z" fill="#000"/>
<path d="M84.52 1016.00L87.32 1019.00L84.52 1022.00L81.72 1019.00Z" fill="#000"/>
<path d="M115.08 1015.00L117.88 1018.00L115.08 1021.00L112.28 1018.00Z" fill="#000"/>
<path d="M138.00 1022.20L140.80 1025.20L138.00 1028.20L135.20 1025.20Z" fill="#000"/>
<path d="M168.56 1032.00L171.36 1035.00L168.56 1038.00L165.76 1035.00Z" fill="#000"/>
<path d="M191.48 1048.50L194.28 1051.50L191.48 1054.50L188.68 1051.50Z" fill="#000"/>
<path d="M196.45 1057.00L199.25 1060.00L196.45 1063.00L193.65 1060.00Z" fill="#000"/>
<path d="M61.60 1023.80L84.52 1021.00L115.08 1022.50L138.00 1021.00L168.56 1015.00L191.48 1011.50L214.40 1006.20" fill="none" stroke="#000" stroke-width="1.1"/>
<path d="M61.60 1020.60L64.60 1026.20L58.60 1026.20Z" fill="#000"/>
<path d="M84.52 1017.80L87.52 1023.40L81.52 1023.40Z" fill="#000"/>
<path d="M115.08 1019.30L118.08 1024.90L112.08 1024.90Z" fill="#000"/>
<path d="M138.00 1017.80L141.00 1023.40L135.00 1023.40Z" fill="#000"/>
<path d="M168.56 1011.80L171.56 1017.40L165.56 1017.40Z" fill="#000"/>
<path d="M191.48 1008.30L194.48 1013.90L188.48 1013.90Z" fill="#000"/>
<path d="M214.40 1003.00L217.40 1008.60L211.40 1008.60Z" fill="#000"/>
<path d="M61.60 1023.80L84.52 1018.00L115.08 1003.00L138.00 999.20L168.56 990.30L191.48 979.20L214.40 969.30" fill="none" stroke="#000" stroke-width="1.1"/>
<rect x="59.10" y="1021.30" width="5.00" height="5.00" fill="#000" />
<rect x="82.02" y="1015.50" width="5.00" height="5.00" fill="#000" />
<rect x="112.58" y="1000.50" width="5.00" height="5.00" fill="#000" />
<rect x="135.50" y="996.70" width="5.00" height="5.00" fill="#000" />
<rect x="166.06" y="987.80" width="5.00" height="5.00" fill="#000" />
<rect x="188.98" y="976.70" width="5.00" height="5.00" fill="#000" />
<rect x="211.90" y="966.80" width="5.00" height="5.00" fill="#000" />
<path d="M61.60 1023.80L84.52 1017.70L115.08 1013.30L138.00 1007.90L168.56 1004.60L191.48 997.70L214.40 992.00" fill="none" stroke="#000" stroke-width="1.1"/>
<circle cx="61.60" cy="1023.80" r="2.6" fill="#fff" stroke="#8c8c8c" stroke-width="0.9"/>
<circle cx="84.52" cy="1017.70" r="2.6" fill="#fff" stroke="#8c8c8c" stroke-width="0.9"/>
<circle cx="115.08" cy="1013.30" r="2.6" fill="#fff" stroke="#8c8c8c" stroke-width="0.9"/>
<circle cx="138.00" cy="1007.90" r="2.6" fill="#fff" stroke="#8c8c8c" stroke-width="0.9"/>
<circle cx="168.56" cy="1004.60" r="2.6" fill="#fff" stroke="#8c8c8c" stroke-width="0.9"/>
<circle cx="191.48" cy="997.70" r="2.6" fill="#fff" stroke="#8c8c8c" stroke-width="0.9"/>
<circle cx="214.40" cy="992.00" r="2.6" fill="#fff" stroke="#8c8c8c" stroke-width="0.9"/>
<line x1="74.20" y1="944.50" x2="88.00" y2="944.50" stroke="#000" stroke-width="1.1" />
<path d="M81.10 941.50L83.90 944.50L81.10 947.50L78.30 944.50Z" fill="#000"/>
<text x="90.80" y="947.30" font-size="7.6" font-weight="bold" textLength="39.80" lengthAdjust="spacingAndGlyphs">No cytokine</text>
<line x1="134.00" y1="944.50" x2="147.90" y2="944.50" stroke="#000" stroke-width="1.1" />
<rect x="138.45" y="942.00" width="5.00" height="5.00" fill="#000" />
<text x="150.30" y="947.30" font-size="7.6" font-weight="bold" textLength="12.50" lengthAdjust="spacingAndGlyphs">IL-6</text>
<line x1="165.20" y1="944.50" x2="179.00" y2="944.50" stroke="#000" stroke-width="1.1" />
<path d="M172.10 941.30L175.10 946.90L169.10 946.90Z" fill="#000"/>
<text x="181.80" y="947.30" font-size="7.6" font-weight="bold" textLength="16.20" lengthAdjust="spacingAndGlyphs">BAFF</text>
<line x1="201.50" y1="944.50" x2="215.40" y2="944.50" stroke="#000" stroke-width="1.1" />
<circle cx="208.45" cy="944.50" r="2.6" fill="#fff" stroke="#8c8c8c" stroke-width="0.9"/>
<text x="218.00" y="947.30" font-size="7.6" font-weight="bold" textLength="21.60" lengthAdjust="spacingAndGlyphs">APRIL</text>
<line x1="314.30" y1="964.50" x2="314.30" y2="1061.90" stroke="#000" stroke-width="1.3" />
<line x1="313.70" y1="1061.30" x2="504.00" y2="1061.30" stroke="#000" stroke-width="1.3" />
<line x1="311.10" y1="1061.30" x2="314.30" y2="1061.30" stroke="#000" stroke-width="1.1" />
<text x="309.30" y="1064.10" font-size="8" font-weight="bold" text-anchor="end">0</text>
<line x1="311.10" y1="1049.26" x2="314.30" y2="1049.26" stroke="#000" stroke-width="1.1" />
<text x="291.00" y="1052.06" font-size="8" font-weight="bold" textLength="18.60" lengthAdjust="spacingAndGlyphs">1E+05</text>
<line x1="311.10" y1="1037.22" x2="314.30" y2="1037.22" stroke="#000" stroke-width="1.1" />
<text x="291.00" y="1040.02" font-size="8" font-weight="bold" textLength="18.60" lengthAdjust="spacingAndGlyphs">1E+06</text>
<line x1="311.10" y1="1025.19" x2="314.30" y2="1025.19" stroke="#000" stroke-width="1.1" />
<text x="291.00" y="1027.99" font-size="8" font-weight="bold" textLength="18.60" lengthAdjust="spacingAndGlyphs">1E+07</text>
<line x1="311.10" y1="1013.15" x2="314.30" y2="1013.15" stroke="#000" stroke-width="1.1" />
<text x="291.00" y="1015.95" font-size="8" font-weight="bold" textLength="18.60" lengthAdjust="spacingAndGlyphs">1E+08</text>
<line x1="311.10" y1="1001.11" x2="314.30" y2="1001.11" stroke="#000" stroke-width="1.1" />
<text x="291.00" y="1003.91" font-size="8" font-weight="bold" textLength="18.60" lengthAdjust="spacingAndGlyphs">1E+09</text>
<line x1="311.10" y1="989.08" x2="314.30" y2="989.08" stroke="#000" stroke-width="1.1" />
<text x="291.00" y="991.88" font-size="8" font-weight="bold" textLength="18.60" lengthAdjust="spacingAndGlyphs">1E+10</text>
<line x1="311.10" y1="977.04" x2="314.30" y2="977.04" stroke="#000" stroke-width="1.1" />
<text x="291.00" y="979.84" font-size="8" font-weight="bold" textLength="18.60" lengthAdjust="spacingAndGlyphs">1E+11</text>
<line x1="311.10" y1="965.00" x2="314.30" y2="965.00" stroke="#000" stroke-width="1.1" />
<text x="291.00" y="967.80" font-size="8" font-weight="bold" textLength="18.60" lengthAdjust="spacingAndGlyphs">1E+12</text>
<line x1="314.30" y1="1061.30" x2="314.30" y2="1064.60" stroke="#000" stroke-width="1.1" />
<text x="314.30" y="1078.20" font-size="8" font-weight="bold" text-anchor="middle">0</text>
<line x1="352.30" y1="1061.30" x2="352.30" y2="1064.60" stroke="#000" stroke-width="1.1" />
<text x="352.30" y="1078.20" font-size="8" font-weight="bold" text-anchor="middle">5</text>
<line x1="390.30" y1="1061.30" x2="390.30" y2="1064.60" stroke="#000" stroke-width="1.1" />
<text x="390.30" y="1078.20" font-size="8" font-weight="bold" text-anchor="middle">10</text>
<line x1="428.30" y1="1061.30" x2="428.30" y2="1064.60" stroke="#000" stroke-width="1.1" />
<text x="428.30" y="1078.20" font-size="8" font-weight="bold" text-anchor="middle">15</text>
<line x1="466.30" y1="1061.30" x2="466.30" y2="1064.60" stroke="#000" stroke-width="1.1" />
<text x="466.30" y="1078.20" font-size="8" font-weight="bold" text-anchor="middle">20</text>
<line x1="504.30" y1="1061.30" x2="504.30" y2="1064.60" stroke="#000" stroke-width="1.1" />
<text x="504.30" y="1078.20" font-size="8" font-weight="bold" text-anchor="middle">25</text>
<text x="280.90" y="1011.30" font-size="11.6" text-anchor="middle" transform="rotate(-90 280.90 1011.30)" textLength="55.00" lengthAdjust="spacingAndGlyphs" stroke="#000" stroke-width="0.25">No of cells</text>
<text x="345.50" y="980.20" font-size="11" font-weight="bold" textLength="31.50" lengthAdjust="spacingAndGlyphs">XG-14</text>
<text x="362.50" y="1095.00" font-size="12.6" font-weight="bold" textLength="90.50" lengthAdjust="spacingAndGlyphs">Days of culturing</text>
<path d="M314.30 1046.80L337.10 1048.80L359.90 1053.00L382.70 1055.80L405.50 1061.00" fill="none" stroke="#000" stroke-width="1.1"/>
<path d="M314.30 1043.60L317.30 1049.20L311.30 1049.20Z" fill="#000"/>
<path d="M337.10 1045.60L340.10 1051.20L334.10 1051.20Z" fill="#000"/>
<path d="M359.90 1049.80L362.90 1055.40L356.90 1055.40Z" fill="#000"/>
<path d="M382.70 1052.60L385.70 1058.20L379.70 1058.20Z" fill="#000"/>
<path d="M405.50 1057.80L408.50 1063.40L402.50 1063.40Z" fill="#000"/>
<path d="M314.30 1046.80L337.10 1045.50L359.90 1046.30L382.70 1047.50L405.50 1047.50L428.30 1052.50L451.10 1061.00" fill="none" stroke="#000" stroke-width="1.1"/>
<path d="M314.30 1043.80L317.10 1046.80L314.30 1049.80L311.50 1046.80Z" fill="#000"/>
<path d="M337.10 1042.50L339.90 1045.50L337.10 1048.50L334.30 1045.50Z" fill="#000"/>
<path d="M359.90 1043.30L362.70 1046.30L359.90 1049.30L357.10 1046.30Z" fill="#000"/>
<path d="M382.70 1044.50L385.50 1047.50L382.70 1050.50L379.90 1047.50Z" fill="#000"/>
<path d="M405.50 1044.50L408.30 1047.50L405.50 1050.50L402.70 1047.50Z" fill="#000"/>
<path d="M428.30 1049.50L431.10 1052.50L428.30 1055.50L425.50 1052.50Z" fill="#000"/>
<path d="M451.10 1058.00L453.90 1061.00L451.10 1064.00L448.30 1061.00Z" fill="#000"/>
<path d="M314.30 1046.80L337.10 1035.50L359.90 1023.30L382.70 1013.30L405.50 1000.00L428.30 988.30L451.10 978.80L473.90 966.30" fill="none" stroke="#000" stroke-width="1.1"/>
<rect x="311.80" y="1044.30" width="5.00" height="5.00" fill="#000" />
<rect x="334.60" y="1033.00" width="5.00" height="5.00" fill="#000" />
<rect x="357.40" y="1020.80" width="5.00" height="5.00" fill="#000" />
<rect x="380.20" y="1010.80" width="5.00" height="5.00" fill="#000" />
<rect x="403.00" y="997.50" width="5.00" height="5.00" fill="#000" />
<rect x="425.80" y="985.80" width="5.00" height="5.00" fill="#000" />
<rect x="448.60" y="976.30" width="5.00" height="5.00" fill="#000" />
<rect x="471.40" y="963.80" width="5.00" height="5.00" fill="#000" />
<path d="M314.30 1046.80L337.10 1044.30L359.90 1040.00L382.70 1032.00L405.50 1023.30L428.30 1015.00L451.10 1007.00L473.90 999.50" fill="none" stroke="#000" stroke-width="1.1"/>
<circle cx="314.30" cy="1046.80" r="2.6" fill="#fff" stroke="#8c8c8c" stroke-width="0.9"/>
<circle cx="337.10" cy="1044.30" r="2.6" fill="#fff" stroke="#8c8c8c" stroke-width="0.9"/>
<circle cx="359.90" cy="1040.00" r="2.6" fill="#fff" stroke="#8c8c8c" stroke-width="0.9"/>
<circle cx="382.70" cy="1032.00" r="2.6" fill="#fff" stroke="#8c8c8c" stroke-width="0.9"/>
<circle cx="405.50" cy="1023.30" r="2.6" fill="#fff" stroke="#8c8c8c" stroke-width="0.9"/>
<circle cx="428.30" cy="1015.00" r="2.6" fill="#fff" stroke="#8c8c8c" stroke-width="0.9"/>
<circle cx="451.10" cy="1007.00" r="2.6" fill="#fff" stroke="#8c8c8c" stroke-width="0.9"/>
<circle cx="473.90" cy="999.50" r="2.6" fill="#fff" stroke="#8c8c8c" stroke-width="0.9"/>
<line x1="327.60" y1="944.50" x2="340.80" y2="944.50" stroke="#000" stroke-width="1.1" />
<path d="M334.20 941.50L337.00 944.50L334.20 947.50L331.40 944.50Z" fill="#000"/>
<text x="343.50" y="947.30" font-size="7.6" font-weight="bold" textLength="39.80" lengthAdjust="spacingAndGlyphs">No cytokine</text>
<line x1="386.50" y1="944.50" x2="400.30" y2="944.50" stroke="#000" stroke-width="1.1" />
<rect x="390.90" y="942.00" width="5.00" height="5.00" fill="#000" />
<text x="402.40" y="947.30" font-size="7.6" font-weight="bold" textLength="12.80" lengthAdjust="spacingAndGlyphs">IL-6</text>
<line x1="418.00" y1="944.50" x2="431.50" y2="944.50" stroke="#000" stroke-width="1.1" />
<path d="M424.75 941.30L427.75 946.90L421.75 946.90Z" fill="#000"/>
<text x="434.20" y="947.30" font-size="7.6" font-weight="bold" textLength="16.60" lengthAdjust="spacingAndGlyphs">BAFF</text>
<line x1="454.30" y1="944.50" x2="468.10" y2="944.50" stroke="#000" stroke-width="1.1" />
<circle cx="461.20" cy="944.50" r="2.6" fill="#fff" stroke="#8c8c8c" stroke-width="0.9"/>
<text x="471.30" y="947.30" font-size="7.6" font-weight="bold" textLength="20.00" lengthAdjust="spacingAndGlyphs">APRIL</text>
</g>
</g>
</svg>
</body>
</html>
